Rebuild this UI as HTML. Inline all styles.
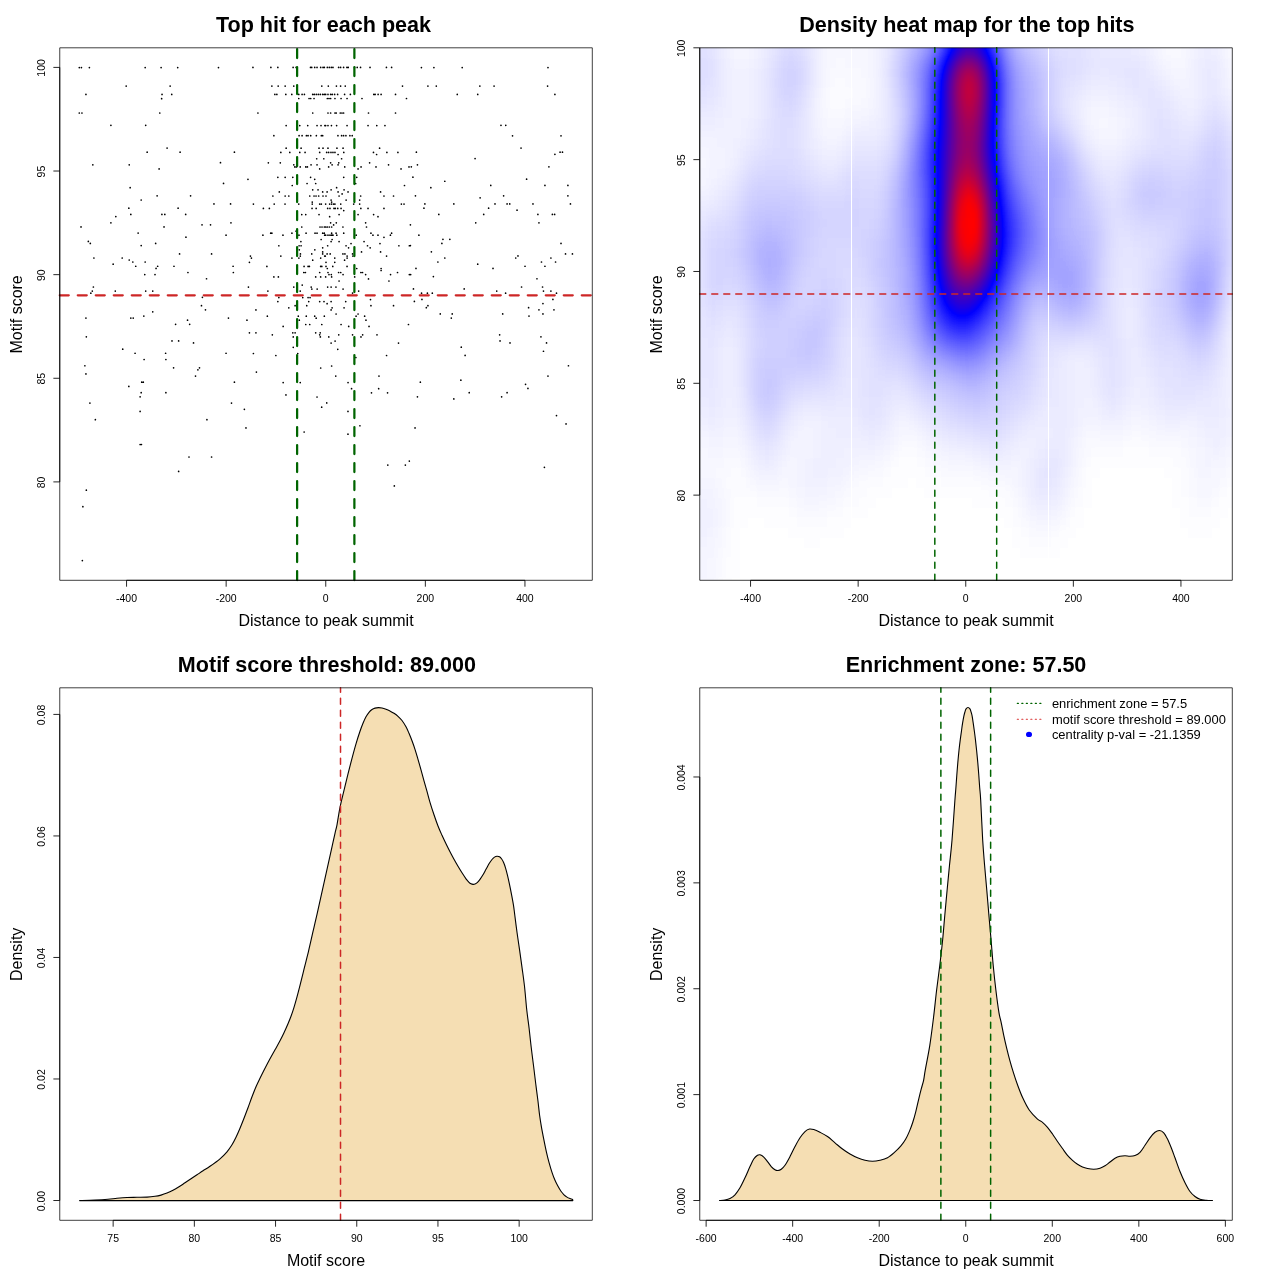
<!DOCTYPE html>
<html><head><meta charset="utf-8"><title>Motif enrichment plots</title>
<style>html,body{margin:0;padding:0;background:#fff}svg{display:block}text{font-family:"Liberation Sans",sans-serif;fill:#000}.ax{font-size:11px}.lg{font-size:12.92px}.lab{font-size:16px}.ttl{font-size:21.55px;font-weight:bold}.ln{stroke:#000;stroke-width:0.85;fill:none;stroke-linecap:butt;stroke-linejoin:round}.bx{stroke:#000;stroke-width:0.75;fill:none;stroke-linejoin:round}</style></head><body>
<svg style="will-change:transform" width="1280" height="1280" viewBox="0 0 1280 1280">
<rect width="1280" height="1280" fill="#fff"/>
<path d="M79.3 67.57h0M81.42 67.57h0M89.39 67.57h0M145.17 67.57h0M161.11 67.57h0M177.71 67.57h0M218.48 67.57h0M126.18 86.03h0M170.14 86.03h0M85.94 94.4h0M162.04 94.4h0M171.73 94.4h0M161.64 98.65h0M79.3 112.99h0M81.95 112.99h0M159.78 112.99h0M110.91 125.34h0M145.7 125.34h0M167.09 148.05h0M147.16 152.17h0M180.1 152.17h0M234.42 152.17h0M220.48 162.66h0M92.84 164.79h0M129.23 164.79h0M159.12 168.91h0M223.53 183.38h0M130.16 187.63h0M157.12 195.87h0M190.59 195.87h0M141.19 199.98h0M213.97 203.97h0M230.57 203.97h0M128.84 208.22h0M178.11 208.22h0M130.83 214.46h0M161.91 214.46h0M164.83 214.46h0M185.68 214.46h0M115.82 216.59h0M110.91 222.83h0M230.97 222.83h0M202.02 224.82h0M210.52 224.82h0M81.02 226.95h0M164.03 226.95h0M138.13 233.05h0M185.95 237.17h0M226.05 235.18h0M88.33 241.42h0M90.32 243.41h0M155.66 243.41h0M141.19 245.54h0M179.57 253.91h0M211.58 253.91h0M93.91 258.02h0M122.2 258.02h0M129.23 260.02h0M132.82 262.01h0M145.17 262.01h0M113.16 264.13h0M135.74 266.26h0M157.66 266.26h0M173.99 266.26h0M233.09 266.26h0M156.06 268.38h0M187.94 272.5h0M233.36 272.5h0M144.77 274.62h0M155 274.62h0M206.53 278.74h0M93.38 286.98h0M92.31 291.09h0M115.29 291.09h0M145.7 291.09h0M152.74 291.09h0M90.85 293.22h0M202.41 297.34h0M201.48 305.7h0M205.47 309.82h0M152.74 311.81h0M143.84 316.06h0M85.94 318.05h0M130.83 318.05h0M133.22 318.05h0M228.45 318.05h0M187.54 320.18h0M175.59 324.3h0M189.66 324.3h0M86.34 336.78h0M172 340.9h0M178.64 340.9h0M193.52 342.89h0M122.73 349.13h0M135.08 353.25h0M165.62 353.25h0M226.05 353.25h0M144.11 359.49h0M165.89 359.49h0M84.88 365.73h0M173.59 367.86h0M199.49 367.86h0M197.9 369.85h0M85.94 373.97h0M195.51 376.09h0M141.72 382.2h0M143.31 382.2h0M234.42 382.2h0M128.84 386.45h0M141.19 392.7h0M165.89 392.7h0M140.12 396.81h0M89.92 403.05h0M231.5 403.05h0M140.12 411.42h0M95.37 419.66h0M206.93 419.66h0M140.12 444.49h0M141.45 444.49h0M189 456.98h0M211.58 456.98h0M178.64 471.45h0M86.34 490.18h0M82.88 506.65h0M82.35 560.57h0M252.95 67.44h0M270.88 67.44h0M277.85 67.44h0M293.12 67.44h0M296.11 67.44h0M310.52 67.44h0M311.72 67.44h0M314.71 67.44h0M317.03 67.44h0M320.68 67.44h0M323.01 67.44h0M324.34 67.44h0M271.88 86.1h0M278.18 86.1h0M285.16 86.1h0M293.79 86.1h0M321.81 86.1h0M274.86 94.4h0M276.86 94.4h0M285.82 94.4h0M291.8 94.4h0M298.77 94.4h0M302.09 94.4h0M304.41 94.4h0M312.71 94.4h0M314.38 94.4h0M316.37 94.4h0M318.36 94.4h0M320.35 94.4h0M322.68 94.4h0M324.34 94.4h0M298.77 98.52h0M309.06 98.52h0M310.72 98.52h0M314.04 98.52h0M257.93 112.99h0M312.71 112.99h0M286.15 125.54h0M299.77 125.54h0M307.73 125.54h0M317.03 125.54h0M321.02 125.54h0M324.87 125.54h0M273.87 135.7h0M299.1 135.7h0M302.09 135.7h0M306.41 135.7h0M308.07 135.7h0M310.72 135.7h0M316.37 135.7h0M321.35 135.7h0M322.68 135.7h0M327.32 67.44h0M329.32 67.44h0M331.31 67.44h0M332.97 67.44h0M338.61 67.44h0M340.61 67.44h0M343.59 67.44h0M346.91 67.44h0M348.24 67.44h0M354.55 67.44h0M357.21 67.44h0M360.53 67.44h0M370.02 67.44h0M386.43 67.44h0M391.61 67.44h0M328.32 86.1h0M336.42 86.1h0M340.61 86.1h0M345.25 86.1h0M402.5 86.1h0M325.66 94.4h0M327.99 94.4h0M330.64 94.4h0M332.3 94.4h0M334.63 94.4h0M337.62 94.4h0M344.59 94.4h0M350.37 94.4h0M373.81 94.4h0M375.14 94.4h0M378.12 94.4h0M381.11 94.4h0M395.52 94.4h0M327.32 98.52h0M328.98 98.52h0M330.64 98.52h0M334.96 98.52h0M341.07 98.52h0M347.05 98.52h0M361.99 98.52h0M406.48 98.52h0M327.99 112.99h0M330.64 112.99h0M334.96 112.99h0M336.29 112.99h0M340.27 112.99h0M341.93 112.99h0M343.59 112.99h0M368.5 112.99h0M395.52 112.99h0M325.66 125.54h0M327.99 125.54h0M331.44 125.54h0M336.62 125.54h0M347.05 125.54h0M368.03 125.54h0M376.8 125.54h0M384.96 125.54h0M337.95 135.7h0M341.6 135.7h0M343.59 135.7h0M345.92 135.7h0M349.9 135.7h0M352.23 135.7h0M286.15 148.19h0M301.09 148.19h0M319.02 148.19h0M323.01 148.19h0M280.84 152.44h0M289.8 152.44h0M299.77 152.44h0M305.08 152.44h0M319.69 152.44h0M316.7 158.75h0M323.8 158.75h0M268.36 162.8h0M280.31 162.8h0M293.79 164.79h0M311.05 164.79h0M317.03 164.79h0M294.79 166.91h0M296.45 166.91h0M300.23 166.91h0M305.74 166.91h0M307.4 166.91h0M319.69 168.91h0M277.85 177.34h0M285.16 177.34h0M292.79 177.34h0M310.59 177.34h0M247.97 179.33h0M314.71 179.33h0M307.07 183.52h0M315.7 183.52h0M292.26 185.51h0M312.71 189.82h0M318.03 189.82h0M279.31 191.88h0M322.68 191.88h0M272.87 196h0M285.16 196h0M288.81 196h0M309.73 196h0M314.04 196h0M316.04 196h0M318.69 196h0M323.01 196h0M312.25 202.11h0M253.41 204.1h0M274.2 204.1h0M285.02 204.1h0M298.77 204.1h0M312.25 204.1h0M319.69 204.1h0M321.35 204.1h0M263.38 208.42h0M269.35 208.42h0M312.05 208.42h0M316.17 208.42h0M301.76 214.59h0M305.74 214.59h0M319.02 214.59h0M301.76 227.01h0M320.02 227.01h0M322.01 227.01h0M324.34 227.01h0M327.99 148.19h0M336.95 148.19h0M343.06 148.19h0M379.59 148.19h0M326.66 152.44h0M328.65 152.44h0M330.98 152.44h0M332.97 152.44h0M334.96 152.44h0M343.79 152.44h0M373.48 152.44h0M386.89 152.44h0M397.91 152.44h0M338.08 154.5h0M376.6 154.5h0M341.6 158.75h0M330.64 162.8h0M338.75 162.8h0M369.62 162.8h0M332.11 164.79h0M338.08 164.79h0M388.55 164.79h0M328.65 166.91h0M344.72 166.91h0M361.06 166.91h0M376 166.91h0M409 166.91h0M358.07 168.91h0M401.04 168.91h0M343.73 177.34h0M356.74 177.34h0M355.68 183.52h0M404.49 185.51h0M336.62 187.63h0M331.11 189.82h0M344.06 189.82h0M327.12 191.88h0M338.08 191.88h0M348.04 191.88h0M380.58 191.88h0M342.13 193.94h0M326 196h0M339.08 196h0M360.66 196h0M383.97 196h0M393.53 196h0M331.11 200.12h0M346.12 200.12h0M359.66 200.12h0M331.64 202.11h0M325.66 204.1h0M329.65 204.1h0M331.64 204.1h0M333.63 204.1h0M334.96 204.1h0M340.74 204.1h0M353.69 204.1h0M359.66 204.1h0M401.37 204.1h0M404.02 204.1h0M327.66 208.42h0M329.98 208.42h0M333.96 208.42h0M335.29 208.42h0M337.75 208.42h0M341.07 208.42h0M360.86 208.42h0M368.03 208.42h0M383.97 208.42h0M343.73 210.54h0M339.08 214.59h0M358.07 214.59h0M373.61 214.59h0M329.65 216.72h0M377.99 216.72h0M330.64 222.83h0M336.29 222.83h0M365.64 222.83h0M333.63 224.89h0M325.66 227.01h0M327.32 227.01h0M329.32 227.01h0M331.64 227.01h0M342.93 227.01h0M366.5 227.01h0M296.11 231.13h0M270.68 233.19h0M271.88 233.19h0M291.93 233.19h0M306.07 233.19h0M315.04 233.19h0M317.03 233.19h0M322.68 233.19h0M324.34 233.19h0M262.91 235.18h0M282.96 235.18h0M298.97 235.18h0M324.67 235.18h0M321.15 239.5h0M300.89 241.62h0M278.85 245.74h0M299.1 245.74h0M301.09 245.74h0M322.68 247.8h0M299.3 249.79h0M314.84 249.79h0M322.68 251.91h0M300.43 253.91h0M311.72 253.91h0M322.68 253.91h0M250.43 256.03h0M280.84 256.03h0M300.3 256.03h0M324.67 256.03h0M251.42 258.09h0M291.93 258.09h0M298.9 258.09h0M320.68 258.09h0M312.71 260.21h0M249.43 262.34h0M266.89 266.39h0M304.08 266.39h0M308.07 266.39h0M309.39 266.39h0M320.68 266.39h0M321.81 266.39h0M303.75 272.5h0M305.41 272.5h0M319.69 272.5h0M273.87 276.88h0M278.38 276.88h0M315.7 276.88h0M320.68 276.88h0M302.22 285.12h0M248.43 287.11h0M293.79 287.11h0M311.19 287.11h0M311.85 289.1h0M317.16 289.1h0M267.89 291.09h0M300.23 291.09h0M278.85 297.54h0M302.75 297.54h0M308.07 297.54h0M310.06 297.54h0M277.85 301.59h0M308.73 301.59h0M319.69 301.59h0M324 301.59h0M295.12 305.7h0M306.74 305.7h0M288.81 307.83h0M255.94 309.89h0M331.64 233.19h0M336.09 233.19h0M343.73 233.19h0M370.95 233.19h0M391.61 233.19h0M325.66 235.18h0M327.99 235.18h0M329.98 235.18h0M331.64 235.18h0M332.97 235.18h0M336.82 235.18h0M356.21 235.18h0M372.95 235.18h0M377.99 235.18h0M390.41 235.18h0M383.97 237.3h0M332.11 239.5h0M331.11 241.62h0M339.08 241.62h0M364.05 241.62h0M351.03 243.61h0M379.98 243.61h0M327.66 245.74h0M346.05 245.74h0M367.5 245.74h0M398.91 245.74h0M409.34 245.74h0M348.57 247.8h0M370.16 247.8h0M361.52 251.91h0M380.58 251.91h0M327.12 253.91h0M330.18 253.91h0M342.93 253.91h0M344.92 253.91h0M352.56 253.91h0M325.33 256.03h0M347.11 256.03h0M352.89 256.03h0M386.56 256.03h0M334.76 258.09h0M347.11 258.09h0M344.59 260.21h0M326 262.34h0M334.76 262.34h0M326 266.39h0M332.77 266.39h0M347.05 266.39h0M327.32 268.52h0M356.74 268.52h0M381.11 268.52h0M381.11 270.51h0M327.99 272.5h0M338.61 272.5h0M340.74 272.5h0M360.86 272.5h0M362.52 272.5h0M397.52 272.5h0M328.98 274.62h0M331.31 274.62h0M343.06 274.62h0M365.64 274.62h0M390.54 274.62h0M409.34 274.62h0M325.66 276.88h0M331.64 276.88h0M354.68 276.88h0M368.5 278.94h0M339.08 281h0M388.95 281h0M327.66 287.11h0M331.11 287.11h0M335.96 287.11h0M343.06 289.1h0M358.67 291.09h0M352.56 293.09h0M370.49 299.59h0M331.11 301.59h0M345.72 301.59h0M327.12 303.71h0M370.95 305.7h0M393.53 305.7h0M332.11 307.83h0M344.06 307.83h0M331.11 309.89h0M336.09 314h0M358.07 314h0M267.36 316.13h0M298.3 316.13h0M306.27 316.13h0M314.71 316.13h0M324.34 316.13h0M316.17 318.19h0M246.97 320.18h0M299.3 320.18h0M305.74 324.5h0M309.73 324.5h0M321.81 324.5h0M283.16 326.42h0M249.43 332.8h0M255.94 332.8h0M292.79 332.8h0M295.12 332.8h0M315.7 332.8h0M320.22 332.8h0M272.34 334.79h0M319.69 334.79h0M293.26 336.91h0M320.35 336.91h0M293.26 347.34h0M253.41 353.52h0M297.77 353.52h0M275.86 355.51h0M320.68 367.99h0M256.4 372.11h0M296.78 374.1h0M283.16 382.54h0M300.23 382.54h0M285.95 394.89h0M317.03 397.01h0M356.08 316.13h0M364.64 316.13h0M365.97 320.18h0M341.07 324.5h0M408.47 324.5h0M348.71 326.42h0M369.03 326.42h0M338.75 334.79h0M352.56 334.79h0M362.65 334.79h0M377 334.79h0M328.79 336.91h0M360.99 336.91h0M335.09 341.03h0M331.11 343.09h0M398.51 343.09h0M337.75 349.33h0M386.56 355.51h0M355.88 357.5h0M331.64 366h0M335.76 376.09h0M378.99 376.09h0M348.04 382.54h0M351.56 388.71h0M378.66 388.71h0M371.48 392.83h0M387.55 392.83h0M244.38 409.3h0M245.98 427.89h0M304.15 432.01h0M321.68 407.17h0M326.73 402.92h0M347.98 411.42h0M347.98 434.13h0M359.93 425.77h0M387.82 465.08h0M405.35 465.08h0M409.34 461.09h0M394.33 485.93h0M421.42 67.57h0M433.91 67.57h0M462.2 67.57h0M547.99 67.57h0M427.93 86.03h0M436.3 86.03h0M479.86 86.03h0M494.07 86.03h0M547.59 86.03h0M457.28 94.4h0M477.73 94.4h0M554.9 94.4h0M500.98 125.34h0M505.76 125.34h0M512.53 135.84h0M561.01 135.84h0M521.03 148.05h0M416.38 152.17h0M560.08 152.17h0M562.47 152.17h0M554.9 154.3h0M475.08 158.55h0M417.44 164.79h0M411.33 166.78h0M548.92 166.78h0M412.92 177.14h0M526.61 179.13h0M444.8 181.26h0M490.75 185.38h0M544.94 185.38h0M567.91 185.38h0M430.85 187.63h0M415.45 195.87h0M503.63 195.87h0M567.91 195.87h0M480.12 197.86h0M424.88 203.97h0M453.83 203.97h0M495 203.97h0M507.09 203.97h0M509.74 203.97h0M532.98 203.97h0M570.44 203.97h0M423.95 208.22h0M488.62 208.22h0M517.05 210.21h0M438.82 214.46h0M483.71 214.46h0M537.9 214.46h0M552.38 214.46h0M554.63 214.46h0M475.74 222.83h0M538.96 222.83h0M410.4 224.82h0M418.9 235.18h0M442.94 239.3h0M449.84 239.3h0M441.88 243.41h0M561.01 243.41h0M410.4 245.54h0M431.38 251.78h0M565.52 253.91h0M572.43 253.91h0M517.98 255.9h0M515.72 258.02h0M444.8 258.02h0M550.91 258.02h0M437.89 262.01h0M541.48 262.01h0M555.56 262.01h0M477.73 264.13h0M525.02 266.26h0M544.94 266.26h0M415.98 268.38h0M493.01 268.38h0M410.66 274.62h0M433.38 276.62h0M536.97 278.74h0M521.56 286.98h0M542.55 286.98h0M413.45 288.97h0M464.19 288.97h0M496.73 291.09h0M543.48 291.09h0M550.91 291.09h0M421.55 293.22h0M427.4 293.22h0M432.31 293.22h0M505.62 293.22h0M556.49 293.22h0M421.95 299.46h0M552.91 299.46h0M414.38 301.45h0M542.95 303.58h0M427.93 305.7h0M426.34 307.7h0M528.6 307.7h0M538.96 309.82h0M553.97 309.82h0M440.28 313.94h0M452.23 313.94h0M502.7 313.94h0M542.95 313.94h0M529 316.06h0M451.3 318.05h0M499.65 334.79h0M540.95 336.78h0M500.05 340.9h0M510.01 342.89h0M546.53 342.89h0M461.27 347.14h0M543.48 351.26h0M465.12 355.38h0M568.45 365.73h0M547.99 376.09h0M460.87 380.21h0M420.36 382.2h0M525.55 384.33h0M527.94 388.45h0M469.23 392.7h0M507.09 392.7h0M417.44 396.81h0M501.64 396.81h0M453.83 398.94h0M415.05 427.89h0M556.49 415.54h0M566.05 423.91h0M544.41 467.34h0" stroke="#000" stroke-width="1.7" stroke-linecap="round" fill="none"/>
<path d="M59.76 295.35H592.3" stroke="#CD2626" stroke-width="2.25" stroke-dasharray="9 9" stroke-linecap="round" fill="none"/>
<path d="M297.12 580.05V47.81" stroke="#006400" stroke-width="2.25" stroke-dasharray="9 9" stroke-linecap="round" fill="none"/>
<path d="M354.38 580.05V47.81" stroke="#006400" stroke-width="2.25" stroke-dasharray="9 9" stroke-linecap="round" fill="none"/>
<rect class="bx" x="59.76" y="47.81" width="532.54" height="532.49"/>
<path class="ln" d="M126.55 580.3H524.95M126.55 580.3v6.4M226.15 580.3v6.4M325.75 580.3v6.4M425.35 580.3v6.4M524.95 580.3v6.4M59.76 67.4V481.9M59.76 481.9h-6.4M59.76 378.27h-6.4M59.76 274.65h-6.4M59.76 171.03h-6.4M59.76 67.4h-6.4"/>
<text class="ax" transform="translate(126.55 601.9) scale(0.955 1)" text-anchor="middle">-400</text>
<text class="ax" transform="translate(226.15 601.9) scale(0.955 1)" text-anchor="middle">-200</text>
<text class="ax" transform="translate(325.75 601.9) scale(0.955 1)" text-anchor="middle">0</text>
<text class="ax" transform="translate(425.35 601.9) scale(0.955 1)" text-anchor="middle">200</text>
<text class="ax" transform="translate(524.95 601.9) scale(0.955 1)" text-anchor="middle">400</text>
<text class="ax" transform="translate(45 482.4) rotate(-90) scale(0.955 1)" text-anchor="middle">80</text>
<text class="ax" transform="translate(45 378.77) rotate(-90) scale(0.955 1)" text-anchor="middle">85</text>
<text class="ax" transform="translate(45 275.15) rotate(-90) scale(0.955 1)" text-anchor="middle">90</text>
<text class="ax" transform="translate(45 171.53) rotate(-90) scale(0.955 1)" text-anchor="middle">95</text>
<text class="ax" transform="translate(45 67.9) rotate(-90) scale(0.955 1)" text-anchor="middle">100</text>
<text class="ttl" x="323.53" y="31.8" text-anchor="middle">Top hit for each peak</text>
<text class="lab" x="326.03" y="625.5" text-anchor="middle">Distance to peak summit</text>
<text class="lab" transform="translate(22 314.35) rotate(-90)" text-anchor="middle">Motif score</text>
<defs><filter id="hm" filterUnits="userSpaceOnUse" x="-16" y="-20" width="568" height="580" color-interpolation-filters="sRGB"><feGaussianBlur stdDeviation="3.2 4.0"/><feComponentTransfer><feFuncR type="table" tableValues="1 0 1"/><feFuncG type="table" tableValues="1 0 0"/><feFuncB type="table" tableValues="1 1 0"/><feFuncA type="table" tableValues="1 1"/></feComponentTransfer></filter><clipPath id="hc"><rect x="0" y="0" width="532.54" height="532.49"/></clipPath></defs>
<g transform="translate(699.76 47.81)" clip-path="url(#hc)"><g filter="url(#hm)">
<path fill="#000000" d="M400 420h64.5v10.5h-64.5zM208 430h8.5v10.5h-8.5zM392 430h80.5v10.5h-80.5zM192 440h32.5v10.5h-32.5zM392 440h80.5v10.5h-80.5zM176 450h96.5v10.5h-96.5zM392 450h80.5v10.5h-80.5zM168 460h128.5v10.5h-128.5zM384 460h96.5v10.5h-96.5zM528 460h24.5v10.5h-24.5zM48 470h16.5v10.5h-16.5zM152 470h152.5v10.5h-152.5zM384 470h96.5v10.5h-96.5zM520 470h32.5v10.5h-32.5zM40 480h48.5v10.5h-48.5zM144 480h168.5v10.5h-168.5zM376 480h112.5v10.5h-112.5zM512 480h40.5v10.5h-40.5zM40 490h64.5v10.5h-64.5zM120 490h192.5v10.5h-192.5zM368 490h184.5v10.5h-184.5zM40 500h280.5v10.5h-280.5zM360 500h192.5v10.5h-192.5zM40 510h512.5v10.5h-512.5zM40 520h512.5v10.5h-512.5zM32 530h520.5v10.5h-520.5zM32 540h520.5v10.5h-520.5zM32 550h520.5v10.5h-520.5z"/>
<path fill="#010101" d="M424 400h24.5v10.5h-24.5zM200 410h16.5v10.5h-16.5zM392 410h80.5v10.5h-80.5zM192 420h32.5v10.5h-32.5zM384 420h16.5v10.5h-16.5zM464 420h16.5v10.5h-16.5zM184 430h24.5v10.5h-24.5zM216 430h24.5v10.5h-24.5zM384 430h8.5v10.5h-8.5zM472 430h8.5v10.5h-8.5zM168 440h24.5v10.5h-24.5zM224 440h64.5v10.5h-64.5zM384 440h8.5v10.5h-8.5zM472 440h8.5v10.5h-8.5zM528 440h24.5v10.5h-24.5zM32 450h24.5v10.5h-24.5zM160 450h16.5v10.5h-16.5zM272 450h32.5v10.5h-32.5zM384 450h8.5v10.5h-8.5zM472 450h16.5v10.5h-16.5zM520 450h32.5v10.5h-32.5zM32 460h56.5v10.5h-56.5zM144 460h24.5v10.5h-24.5zM296 460h16.5v10.5h-16.5zM376 460h8.5v10.5h-8.5zM480 460h8.5v10.5h-8.5zM512 460h16.5v10.5h-16.5zM32 470h16.5v10.5h-16.5zM64 470h32.5v10.5h-32.5zM128 470h24.5v10.5h-24.5zM304 470h8.5v10.5h-8.5zM368 470h16.5v10.5h-16.5zM480 470h40.5v10.5h-40.5zM32 480h8.5v10.5h-8.5zM88 480h56.5v10.5h-56.5zM312 480h8.5v10.5h-8.5zM360 480h16.5v10.5h-16.5zM488 480h24.5v10.5h-24.5zM32 490h8.5v10.5h-8.5zM104 490h16.5v10.5h-16.5zM312 490h16.5v10.5h-16.5zM352 490h16.5v10.5h-16.5zM32 500h8.5v10.5h-8.5zM320 500h40.5v10.5h-40.5zM24 510h16.5v10.5h-16.5zM24 520h16.5v10.5h-16.5zM24 530h8.5v10.5h-8.5zM24 540h8.5v10.5h-8.5zM24 550h8.5v10.5h-8.5z"/>
<path fill="#020202" d="M472 -20h8.5v10.5h-8.5zM472 -10h8.5v10.5h-8.5zM136 30h8.5v10.5h-8.5zM128 40h24.5v10.5h-24.5zM128 50h16.5v10.5h-16.5zM424 390h24.5v10.5h-24.5zM200 400h16.5v10.5h-16.5zM392 400h32.5v10.5h-32.5zM448 400h32.5v10.5h-32.5zM192 410h8.5v10.5h-8.5zM216 410h8.5v10.5h-8.5zM384 410h8.5v10.5h-8.5zM472 410h16.5v10.5h-16.5zM32 420h8.5v10.5h-8.5zM184 420h8.5v10.5h-8.5zM224 420h16.5v10.5h-16.5zM480 420h8.5v10.5h-8.5zM528 420h24.5v10.5h-24.5zM24 430h24.5v10.5h-24.5zM160 430h24.5v10.5h-24.5zM240 430h40.5v10.5h-40.5zM480 430h8.5v10.5h-8.5zM528 430h24.5v10.5h-24.5zM32 440h24.5v10.5h-24.5zM152 440h16.5v10.5h-16.5zM288 440h24.5v10.5h-24.5zM376 440h8.5v10.5h-8.5zM480 440h8.5v10.5h-8.5zM520 440h8.5v10.5h-8.5zM56 450h32.5v10.5h-32.5zM144 450h16.5v10.5h-16.5zM304 450h8.5v10.5h-8.5zM376 450h8.5v10.5h-8.5zM488 450h8.5v10.5h-8.5zM512 450h8.5v10.5h-8.5zM88 460h8.5v10.5h-8.5zM128 460h16.5v10.5h-16.5zM312 460h8.5v10.5h-8.5zM368 460h8.5v10.5h-8.5zM488 460h24.5v10.5h-24.5zM96 470h32.5v10.5h-32.5zM312 470h8.5v10.5h-8.5zM24 480h8.5v10.5h-8.5zM320 480h8.5v10.5h-8.5zM352 480h8.5v10.5h-8.5zM24 490h8.5v10.5h-8.5zM328 490h24.5v10.5h-24.5zM24 500h8.5v10.5h-8.5zM16 530h8.5v10.5h-8.5zM16 540h8.5v10.5h-8.5zM16 550h8.5v10.5h-8.5z"/>
<path fill="#030303" d="M464 -20h8.5v10.5h-8.5zM480 -20h8.5v10.5h-8.5zM528 -20h24.5v10.5h-24.5zM464 -10h8.5v10.5h-8.5zM480 -10h8.5v10.5h-8.5zM528 -10h24.5v10.5h-24.5zM464 0h16.5v10.5h-16.5zM528 0h24.5v10.5h-24.5zM136 10h8.5v10.5h-8.5zM128 20h32.5v10.5h-32.5zM128 30h8.5v10.5h-8.5zM144 30h24.5v10.5h-24.5zM152 40h16.5v10.5h-16.5zM144 50h16.5v10.5h-16.5zM128 60h16.5v10.5h-16.5zM432 380h8.5v10.5h-8.5zM200 390h16.5v10.5h-16.5zM384 390h40.5v10.5h-40.5zM448 390h32.5v10.5h-32.5zM-16 400h16.5v10.5h-16.5zM192 400h8.5v10.5h-8.5zM216 400h8.5v10.5h-8.5zM384 400h8.5v10.5h-8.5zM480 400h8.5v10.5h-8.5zM-16 410h16.5v10.5h-16.5zM24 410h16.5v10.5h-16.5zM184 410h8.5v10.5h-8.5zM224 410h8.5v10.5h-8.5zM528 410h24.5v10.5h-24.5zM16 420h16.5v10.5h-16.5zM40 420h8.5v10.5h-8.5zM168 420h16.5v10.5h-16.5zM240 420h32.5v10.5h-32.5zM376 420h8.5v10.5h-8.5zM488 420h8.5v10.5h-8.5zM152 430h8.5v10.5h-8.5zM280 430h24.5v10.5h-24.5zM376 430h8.5v10.5h-8.5zM488 430h8.5v10.5h-8.5zM520 430h8.5v10.5h-8.5zM24 440h8.5v10.5h-8.5zM56 440h32.5v10.5h-32.5zM144 440h8.5v10.5h-8.5zM488 440h8.5v10.5h-8.5zM512 440h8.5v10.5h-8.5zM24 450h8.5v10.5h-8.5zM88 450h8.5v10.5h-8.5zM136 450h8.5v10.5h-8.5zM312 450h8.5v10.5h-8.5zM368 450h8.5v10.5h-8.5zM496 450h16.5v10.5h-16.5zM24 460h8.5v10.5h-8.5zM96 460h32.5v10.5h-32.5zM24 470h8.5v10.5h-8.5zM320 470h8.5v10.5h-8.5zM360 470h8.5v10.5h-8.5zM328 480h24.5v10.5h-24.5zM16 500h8.5v10.5h-8.5zM16 510h8.5v10.5h-8.5zM16 520h8.5v10.5h-8.5z"/>
<path fill="#040404" d="M128 -20h40.5v10.5h-40.5zM456 -20h8.5v10.5h-8.5zM128 -10h40.5v10.5h-40.5zM456 -10h8.5v10.5h-8.5zM128 0h40.5v10.5h-40.5zM480 0h8.5v10.5h-8.5zM128 10h8.5v10.5h-8.5zM144 10h24.5v10.5h-24.5zM472 10h16.5v10.5h-16.5zM528 10h24.5v10.5h-24.5zM160 20h8.5v10.5h-8.5zM528 20h24.5v10.5h-24.5zM120 40h8.5v10.5h-8.5zM120 50h8.5v10.5h-8.5zM160 50h8.5v10.5h-8.5zM120 60h8.5v10.5h-8.5zM144 60h8.5v10.5h-8.5zM128 70h16.5v10.5h-16.5zM400 70h8.5v10.5h-8.5zM-16 100h16.5v10.5h-16.5zM-16 110h24.5v10.5h-24.5zM-16 120h16.5v10.5h-16.5zM384 380h16.5v10.5h-16.5zM424 380h8.5v10.5h-8.5zM440 380h16.5v10.5h-16.5zM-16 390h16.5v10.5h-16.5zM216 390h8.5v10.5h-8.5zM480 390h8.5v10.5h-8.5zM0 400h8.5v10.5h-8.5zM24 400h16.5v10.5h-16.5zM224 400h8.5v10.5h-8.5zM376 400h8.5v10.5h-8.5zM488 400h8.5v10.5h-8.5zM528 400h24.5v10.5h-24.5zM0 410h24.5v10.5h-24.5zM40 410h8.5v10.5h-8.5zM176 410h8.5v10.5h-8.5zM232 410h16.5v10.5h-16.5zM376 410h8.5v10.5h-8.5zM488 410h8.5v10.5h-8.5zM-16 420h32.5v10.5h-32.5zM152 420h16.5v10.5h-16.5zM272 420h16.5v10.5h-16.5zM512 420h16.5v10.5h-16.5zM-16 430h16.5v10.5h-16.5zM16 430h8.5v10.5h-8.5zM48 430h8.5v10.5h-8.5zM80 430h8.5v10.5h-8.5zM144 430h8.5v10.5h-8.5zM304 430h8.5v10.5h-8.5zM496 430h24.5v10.5h-24.5zM16 440h8.5v10.5h-8.5zM88 440h8.5v10.5h-8.5zM136 440h8.5v10.5h-8.5zM312 440h8.5v10.5h-8.5zM368 440h8.5v10.5h-8.5zM496 440h16.5v10.5h-16.5zM96 450h8.5v10.5h-8.5zM120 450h16.5v10.5h-16.5zM320 460h8.5v10.5h-8.5zM360 460h8.5v10.5h-8.5zM328 470h8.5v10.5h-8.5zM352 470h8.5v10.5h-8.5zM16 480h8.5v10.5h-8.5zM16 490h8.5v10.5h-8.5zM8 510h8.5v10.5h-8.5zM-16 520h16.5v10.5h-16.5zM8 520h8.5v10.5h-8.5zM-16 530h32.5v10.5h-32.5zM-16 540h32.5v10.5h-32.5zM-16 550h32.5v10.5h-32.5z"/>
<path fill="#050505" d="M32 -20h16.5v10.5h-16.5zM120 -20h8.5v10.5h-8.5zM168 -20h8.5v10.5h-8.5zM488 -20h8.5v10.5h-8.5zM520 -20h8.5v10.5h-8.5zM32 -10h16.5v10.5h-16.5zM120 -10h8.5v10.5h-8.5zM168 -10h8.5v10.5h-8.5zM488 -10h8.5v10.5h-8.5zM520 -10h8.5v10.5h-8.5zM32 0h16.5v10.5h-16.5zM120 0h8.5v10.5h-8.5zM168 0h8.5v10.5h-8.5zM456 0h8.5v10.5h-8.5zM120 10h8.5v10.5h-8.5zM168 10h8.5v10.5h-8.5zM464 10h8.5v10.5h-8.5zM120 20h8.5v10.5h-8.5zM168 20h8.5v10.5h-8.5zM472 20h16.5v10.5h-16.5zM120 30h8.5v10.5h-8.5zM168 30h8.5v10.5h-8.5zM528 30h24.5v10.5h-24.5zM168 40h8.5v10.5h-8.5zM168 50h8.5v10.5h-8.5zM152 60h16.5v10.5h-16.5zM392 60h16.5v10.5h-16.5zM120 70h8.5v10.5h-8.5zM144 70h8.5v10.5h-8.5zM392 70h8.5v10.5h-8.5zM408 70h8.5v10.5h-8.5zM120 80h24.5v10.5h-24.5zM400 80h16.5v10.5h-16.5zM-16 90h16.5v10.5h-16.5zM0 100h8.5v10.5h-8.5zM0 120h8.5v10.5h-8.5zM-16 130h24.5v10.5h-24.5zM432 370h16.5v10.5h-16.5zM-16 380h16.5v10.5h-16.5zM200 380h16.5v10.5h-16.5zM400 380h24.5v10.5h-24.5zM456 380h32.5v10.5h-32.5zM0 390h8.5v10.5h-8.5zM24 390h16.5v10.5h-16.5zM192 390h8.5v10.5h-8.5zM376 390h8.5v10.5h-8.5zM488 390h8.5v10.5h-8.5zM528 390h24.5v10.5h-24.5zM8 400h16.5v10.5h-16.5zM40 400h8.5v10.5h-8.5zM184 400h8.5v10.5h-8.5zM232 400h8.5v10.5h-8.5zM496 400h8.5v10.5h-8.5zM88 410h8.5v10.5h-8.5zM160 410h16.5v10.5h-16.5zM248 410h24.5v10.5h-24.5zM496 410h8.5v10.5h-8.5zM512 410h16.5v10.5h-16.5zM48 420h8.5v10.5h-8.5zM80 420h16.5v10.5h-16.5zM288 420h32.5v10.5h-32.5zM496 420h16.5v10.5h-16.5zM0 430h16.5v10.5h-16.5zM56 430h24.5v10.5h-24.5zM88 430h8.5v10.5h-8.5zM312 430h8.5v10.5h-8.5zM368 430h8.5v10.5h-8.5zM-16 440h16.5v10.5h-16.5zM96 440h8.5v10.5h-8.5zM128 440h8.5v10.5h-8.5zM16 450h8.5v10.5h-8.5zM104 450h16.5v10.5h-16.5zM320 450h8.5v10.5h-8.5zM16 460h8.5v10.5h-8.5zM16 470h8.5v10.5h-8.5zM336 470h16.5v10.5h-16.5zM8 490h8.5v10.5h-8.5zM-16 500h32.5v10.5h-32.5zM-16 510h24.5v10.5h-24.5zM0 520h8.5v10.5h-8.5z"/>
<path fill="#060606" d="M24 -20h8.5v10.5h-8.5zM48 -20h8.5v10.5h-8.5zM448 -20h8.5v10.5h-8.5zM24 -10h8.5v10.5h-8.5zM48 -10h8.5v10.5h-8.5zM448 -10h8.5v10.5h-8.5zM48 0h8.5v10.5h-8.5zM488 0h8.5v10.5h-8.5zM520 0h8.5v10.5h-8.5zM32 10h16.5v10.5h-16.5zM456 10h8.5v10.5h-8.5zM464 20h8.5v10.5h-8.5zM472 30h16.5v10.5h-16.5zM528 40h24.5v10.5h-24.5zM392 50h16.5v10.5h-16.5zM168 60h8.5v10.5h-8.5zM384 60h8.5v10.5h-8.5zM408 60h8.5v10.5h-8.5zM152 70h8.5v10.5h-8.5zM384 70h8.5v10.5h-8.5zM416 70h8.5v10.5h-8.5zM-16 80h16.5v10.5h-16.5zM392 80h8.5v10.5h-8.5zM416 80h8.5v10.5h-8.5zM0 90h16.5v10.5h-16.5zM128 90h8.5v10.5h-8.5zM400 90h16.5v10.5h-16.5zM8 100h16.5v10.5h-16.5zM8 110h16.5v10.5h-16.5zM8 120h8.5v10.5h-8.5zM-16 140h16.5v10.5h-16.5zM536 330h16.5v10.5h-16.5zM536 340h16.5v10.5h-16.5zM528 350h24.5v10.5h-24.5zM432 360h8.5v10.5h-8.5zM536 360h16.5v10.5h-16.5zM-16 370h16.5v10.5h-16.5zM200 370h8.5v10.5h-8.5zM384 370h16.5v10.5h-16.5zM424 370h8.5v10.5h-8.5zM448 370h8.5v10.5h-8.5zM528 370h24.5v10.5h-24.5zM0 380h8.5v10.5h-8.5zM24 380h16.5v10.5h-16.5zM96 380h16.5v10.5h-16.5zM192 380h8.5v10.5h-8.5zM216 380h8.5v10.5h-8.5zM376 380h8.5v10.5h-8.5zM488 380h8.5v10.5h-8.5zM528 380h24.5v10.5h-24.5zM8 390h16.5v10.5h-16.5zM88 390h24.5v10.5h-24.5zM224 390h8.5v10.5h-8.5zM496 390h8.5v10.5h-8.5zM88 400h24.5v10.5h-24.5zM176 400h8.5v10.5h-8.5zM240 400h8.5v10.5h-8.5zM504 400h8.5v10.5h-8.5zM520 400h8.5v10.5h-8.5zM80 410h8.5v10.5h-8.5zM96 410h8.5v10.5h-8.5zM152 410h8.5v10.5h-8.5zM272 410h8.5v10.5h-8.5zM312 410h8.5v10.5h-8.5zM504 410h8.5v10.5h-8.5zM96 420h8.5v10.5h-8.5zM144 420h8.5v10.5h-8.5zM368 420h8.5v10.5h-8.5zM96 430h8.5v10.5h-8.5zM128 430h16.5v10.5h-16.5zM0 440h16.5v10.5h-16.5zM104 440h24.5v10.5h-24.5zM320 440h8.5v10.5h-8.5zM-16 450h16.5v10.5h-16.5zM8 450h8.5v10.5h-8.5zM360 450h8.5v10.5h-8.5zM328 460h8.5v10.5h-8.5zM352 460h8.5v10.5h-8.5zM-16 480h16.5v10.5h-16.5zM8 480h8.5v10.5h-8.5zM-16 490h24.5v10.5h-24.5z"/>
<path fill="#070707" d="M176 -20h8.5v10.5h-8.5zM176 -10h8.5v10.5h-8.5zM24 0h8.5v10.5h-8.5zM448 0h8.5v10.5h-8.5zM48 10h8.5v10.5h-8.5zM488 10h8.5v10.5h-8.5zM520 10h8.5v10.5h-8.5zM32 20h16.5v10.5h-16.5zM488 20h8.5v10.5h-8.5zM32 30h16.5v10.5h-16.5zM488 30h8.5v10.5h-8.5zM32 40h16.5v10.5h-16.5zM480 40h16.5v10.5h-16.5zM32 50h16.5v10.5h-16.5zM112 50h8.5v10.5h-8.5zM384 50h8.5v10.5h-8.5zM408 50h8.5v10.5h-8.5zM536 50h16.5v10.5h-16.5zM32 60h16.5v10.5h-16.5zM112 60h8.5v10.5h-8.5zM416 60h8.5v10.5h-8.5zM24 70h16.5v10.5h-16.5zM112 70h8.5v10.5h-8.5zM160 70h8.5v10.5h-8.5zM424 70h8.5v10.5h-8.5zM0 80h40.5v10.5h-40.5zM144 80h8.5v10.5h-8.5zM16 90h16.5v10.5h-16.5zM120 90h8.5v10.5h-8.5zM136 90h8.5v10.5h-8.5zM392 90h8.5v10.5h-8.5zM416 90h8.5v10.5h-8.5zM24 100h8.5v10.5h-8.5zM24 110h8.5v10.5h-8.5zM16 120h8.5v10.5h-8.5zM8 130h8.5v10.5h-8.5zM0 140h8.5v10.5h-8.5zM528 290h24.5v10.5h-24.5zM528 300h24.5v10.5h-24.5zM528 310h24.5v10.5h-24.5zM528 320h24.5v10.5h-24.5zM528 330h8.5v10.5h-8.5zM528 340h8.5v10.5h-8.5zM384 350h8.5v10.5h-8.5zM376 360h24.5v10.5h-24.5zM424 360h8.5v10.5h-8.5zM440 360h8.5v10.5h-8.5zM528 360h8.5v10.5h-8.5zM24 370h16.5v10.5h-16.5zM104 370h16.5v10.5h-16.5zM192 370h8.5v10.5h-8.5zM208 370h8.5v10.5h-8.5zM376 370h8.5v10.5h-8.5zM400 370h24.5v10.5h-24.5zM456 370h8.5v10.5h-8.5zM480 370h16.5v10.5h-16.5zM8 380h16.5v10.5h-16.5zM112 380h8.5v10.5h-8.5zM496 380h8.5v10.5h-8.5zM40 390h8.5v10.5h-8.5zM112 390h8.5v10.5h-8.5zM184 390h8.5v10.5h-8.5zM232 390h8.5v10.5h-8.5zM368 390h8.5v10.5h-8.5zM504 390h8.5v10.5h-8.5zM520 390h8.5v10.5h-8.5zM112 400h8.5v10.5h-8.5zM144 400h32.5v10.5h-32.5zM248 400h16.5v10.5h-16.5zM320 400h8.5v10.5h-8.5zM368 400h8.5v10.5h-8.5zM512 400h8.5v10.5h-8.5zM48 410h8.5v10.5h-8.5zM104 410h8.5v10.5h-8.5zM136 410h16.5v10.5h-16.5zM280 410h8.5v10.5h-8.5zM296 410h16.5v10.5h-16.5zM320 410h8.5v10.5h-8.5zM368 410h8.5v10.5h-8.5zM56 420h24.5v10.5h-24.5zM104 420h8.5v10.5h-8.5zM128 420h16.5v10.5h-16.5zM320 420h8.5v10.5h-8.5zM104 430h24.5v10.5h-24.5zM320 430h8.5v10.5h-8.5zM360 440h8.5v10.5h-8.5zM0 450h8.5v10.5h-8.5zM-16 460h32.5v10.5h-32.5zM336 460h16.5v10.5h-16.5zM-16 470h32.5v10.5h-32.5zM0 480h8.5v10.5h-8.5z"/>
<path fill="#080808" d="M56 -20h8.5v10.5h-8.5zM112 -20h8.5v10.5h-8.5zM440 -20h8.5v10.5h-8.5zM496 -20h8.5v10.5h-8.5zM512 -20h8.5v10.5h-8.5zM56 -10h8.5v10.5h-8.5zM112 -10h8.5v10.5h-8.5zM440 -10h8.5v10.5h-8.5zM496 -10h8.5v10.5h-8.5zM512 -10h8.5v10.5h-8.5zM56 0h8.5v10.5h-8.5zM176 0h8.5v10.5h-8.5zM496 0h8.5v10.5h-8.5zM512 0h8.5v10.5h-8.5zM24 10h8.5v10.5h-8.5zM176 10h8.5v10.5h-8.5zM24 20h8.5v10.5h-8.5zM48 20h8.5v10.5h-8.5zM176 20h8.5v10.5h-8.5zM456 20h8.5v10.5h-8.5zM520 20h8.5v10.5h-8.5zM24 30h8.5v10.5h-8.5zM48 30h8.5v10.5h-8.5zM176 30h8.5v10.5h-8.5zM464 30h8.5v10.5h-8.5zM520 30h8.5v10.5h-8.5zM24 40h8.5v10.5h-8.5zM48 40h8.5v10.5h-8.5zM112 40h8.5v10.5h-8.5zM176 40h8.5v10.5h-8.5zM392 40h16.5v10.5h-16.5zM472 40h8.5v10.5h-8.5zM24 50h8.5v10.5h-8.5zM48 50h8.5v10.5h-8.5zM176 50h8.5v10.5h-8.5zM416 50h8.5v10.5h-8.5zM480 50h16.5v10.5h-16.5zM528 50h8.5v10.5h-8.5zM24 60h8.5v10.5h-8.5zM48 60h8.5v10.5h-8.5zM176 60h8.5v10.5h-8.5zM424 60h8.5v10.5h-8.5zM-16 70h16.5v10.5h-16.5zM16 70h8.5v10.5h-8.5zM40 70h8.5v10.5h-8.5zM168 70h8.5v10.5h-8.5zM40 80h8.5v10.5h-8.5zM112 80h8.5v10.5h-8.5zM384 80h8.5v10.5h-8.5zM424 80h8.5v10.5h-8.5zM32 90h8.5v10.5h-8.5zM32 100h8.5v10.5h-8.5zM120 100h16.5v10.5h-16.5zM400 100h16.5v10.5h-16.5zM24 120h8.5v10.5h-8.5zM16 130h8.5v10.5h-8.5zM8 140h8.5v10.5h-8.5zM-16 150h16.5v10.5h-16.5zM528 280h24.5v10.5h-24.5zM376 310h8.5v10.5h-8.5zM376 320h16.5v10.5h-16.5zM376 330h16.5v10.5h-16.5zM376 340h16.5v10.5h-16.5zM432 340h8.5v10.5h-8.5zM24 350h8.5v10.5h-8.5zM376 350h8.5v10.5h-8.5zM392 350h8.5v10.5h-8.5zM432 350h16.5v10.5h-16.5zM-16 360h16.5v10.5h-16.5zM24 360h16.5v10.5h-16.5zM200 360h8.5v10.5h-8.5zM448 360h8.5v10.5h-8.5zM0 370h8.5v10.5h-8.5zM16 370h8.5v10.5h-8.5zM96 370h8.5v10.5h-8.5zM120 370h8.5v10.5h-8.5zM464 370h16.5v10.5h-16.5zM496 370h8.5v10.5h-8.5zM520 370h8.5v10.5h-8.5zM40 380h8.5v10.5h-8.5zM88 380h8.5v10.5h-8.5zM120 380h16.5v10.5h-16.5zM184 380h8.5v10.5h-8.5zM224 380h8.5v10.5h-8.5zM368 380h8.5v10.5h-8.5zM504 380h24.5v10.5h-24.5zM120 390h48.5v10.5h-48.5zM176 390h8.5v10.5h-8.5zM320 390h16.5v10.5h-16.5zM512 390h8.5v10.5h-8.5zM48 400h8.5v10.5h-8.5zM80 400h8.5v10.5h-8.5zM120 400h24.5v10.5h-24.5zM264 400h8.5v10.5h-8.5zM312 400h8.5v10.5h-8.5zM328 400h8.5v10.5h-8.5zM72 410h8.5v10.5h-8.5zM112 410h24.5v10.5h-24.5zM288 410h8.5v10.5h-8.5zM112 420h16.5v10.5h-16.5zM360 430h8.5v10.5h-8.5zM328 450h8.5v10.5h-8.5zM352 450h8.5v10.5h-8.5z"/>
<path fill="#090909" d="M432 -20h8.5v10.5h-8.5zM504 -20h8.5v10.5h-8.5zM432 -10h8.5v10.5h-8.5zM504 -10h8.5v10.5h-8.5zM112 0h8.5v10.5h-8.5zM440 0h8.5v10.5h-8.5zM504 0h8.5v10.5h-8.5zM56 10h8.5v10.5h-8.5zM112 10h8.5v10.5h-8.5zM448 10h8.5v10.5h-8.5zM496 10h8.5v10.5h-8.5zM112 20h8.5v10.5h-8.5zM496 20h8.5v10.5h-8.5zM112 30h8.5v10.5h-8.5zM496 30h8.5v10.5h-8.5zM384 40h8.5v10.5h-8.5zM408 40h8.5v10.5h-8.5zM496 40h8.5v10.5h-8.5zM520 40h8.5v10.5h-8.5zM376 50h8.5v10.5h-8.5zM424 50h8.5v10.5h-8.5zM16 60h8.5v10.5h-8.5zM376 60h8.5v10.5h-8.5zM432 60h8.5v10.5h-8.5zM488 60h8.5v10.5h-8.5zM528 60h24.5v10.5h-24.5zM0 70h16.5v10.5h-16.5zM48 70h8.5v10.5h-8.5zM176 70h8.5v10.5h-8.5zM432 70h8.5v10.5h-8.5zM152 80h24.5v10.5h-24.5zM432 80h8.5v10.5h-8.5zM40 90h8.5v10.5h-8.5zM112 90h8.5v10.5h-8.5zM144 90h8.5v10.5h-8.5zM424 90h8.5v10.5h-8.5zM136 100h8.5v10.5h-8.5zM416 100h8.5v10.5h-8.5zM32 110h8.5v10.5h-8.5zM0 150h8.5v10.5h-8.5zM528 270h24.5v10.5h-24.5zM24 300h8.5v10.5h-8.5zM24 310h8.5v10.5h-8.5zM368 310h8.5v10.5h-8.5zM384 310h8.5v10.5h-8.5zM24 320h8.5v10.5h-8.5zM368 320h8.5v10.5h-8.5zM24 330h8.5v10.5h-8.5zM368 330h8.5v10.5h-8.5zM432 330h16.5v10.5h-16.5zM520 330h8.5v10.5h-8.5zM24 340h16.5v10.5h-16.5zM368 340h8.5v10.5h-8.5zM392 340h8.5v10.5h-8.5zM440 340h8.5v10.5h-8.5zM520 340h8.5v10.5h-8.5zM-16 350h16.5v10.5h-16.5zM32 350h8.5v10.5h-8.5zM368 350h8.5v10.5h-8.5zM424 350h8.5v10.5h-8.5zM448 350h8.5v10.5h-8.5zM520 350h8.5v10.5h-8.5zM0 360h8.5v10.5h-8.5zM16 360h8.5v10.5h-8.5zM104 360h16.5v10.5h-16.5zM192 360h8.5v10.5h-8.5zM368 360h8.5v10.5h-8.5zM400 360h8.5v10.5h-8.5zM416 360h8.5v10.5h-8.5zM456 360h8.5v10.5h-8.5zM488 360h8.5v10.5h-8.5zM520 360h8.5v10.5h-8.5zM8 370h8.5v10.5h-8.5zM128 370h24.5v10.5h-24.5zM216 370h8.5v10.5h-8.5zM368 370h8.5v10.5h-8.5zM504 370h16.5v10.5h-16.5zM136 380h24.5v10.5h-24.5zM328 380h24.5v10.5h-24.5zM80 390h8.5v10.5h-8.5zM168 390h8.5v10.5h-8.5zM240 390h8.5v10.5h-8.5zM312 390h8.5v10.5h-8.5zM336 390h8.5v10.5h-8.5zM272 400h8.5v10.5h-8.5zM304 400h8.5v10.5h-8.5zM56 410h8.5v10.5h-8.5zM328 410h8.5v10.5h-8.5zM328 420h8.5v10.5h-8.5zM360 420h8.5v10.5h-8.5zM328 430h8.5v10.5h-8.5zM328 440h8.5v10.5h-8.5zM336 450h16.5v10.5h-16.5z"/>
<path fill="#0a0a0a" d="M16 -20h8.5v10.5h-8.5zM64 -20h8.5v10.5h-8.5zM400 -20h32.5v10.5h-32.5zM16 -10h8.5v10.5h-8.5zM64 -10h8.5v10.5h-8.5zM400 -10h32.5v10.5h-32.5zM16 0h8.5v10.5h-8.5zM432 0h8.5v10.5h-8.5zM504 10h16.5v10.5h-16.5zM56 20h8.5v10.5h-8.5zM448 20h8.5v10.5h-8.5zM512 20h8.5v10.5h-8.5zM56 30h8.5v10.5h-8.5zM392 30h24.5v10.5h-24.5zM456 30h8.5v10.5h-8.5zM56 40h8.5v10.5h-8.5zM416 40h8.5v10.5h-8.5zM464 40h8.5v10.5h-8.5zM16 50h8.5v10.5h-8.5zM56 50h8.5v10.5h-8.5zM432 50h8.5v10.5h-8.5zM472 50h8.5v10.5h-8.5zM496 50h8.5v10.5h-8.5zM-16 60h32.5v10.5h-32.5zM56 60h8.5v10.5h-8.5zM480 60h8.5v10.5h-8.5zM376 70h8.5v10.5h-8.5zM48 80h8.5v10.5h-8.5zM176 80h8.5v10.5h-8.5zM384 90h8.5v10.5h-8.5zM112 100h8.5v10.5h-8.5zM392 100h8.5v10.5h-8.5zM120 110h16.5v10.5h-16.5zM400 110h16.5v10.5h-16.5zM24 130h8.5v10.5h-8.5zM16 140h8.5v10.5h-8.5zM8 150h8.5v10.5h-8.5zM-16 160h16.5v10.5h-16.5zM424 260h8.5v10.5h-8.5zM528 260h24.5v10.5h-24.5zM424 270h8.5v10.5h-8.5zM424 280h8.5v10.5h-8.5zM24 290h8.5v10.5h-8.5zM16 300h8.5v10.5h-8.5zM32 300h8.5v10.5h-8.5zM432 300h8.5v10.5h-8.5zM16 310h8.5v10.5h-8.5zM32 310h8.5v10.5h-8.5zM360 310h8.5v10.5h-8.5zM432 310h8.5v10.5h-8.5zM16 320h8.5v10.5h-8.5zM32 320h8.5v10.5h-8.5zM360 320h8.5v10.5h-8.5zM392 320h8.5v10.5h-8.5zM432 320h16.5v10.5h-16.5zM520 320h8.5v10.5h-8.5zM-16 330h16.5v10.5h-16.5zM16 330h8.5v10.5h-8.5zM32 330h8.5v10.5h-8.5zM360 330h8.5v10.5h-8.5zM392 330h8.5v10.5h-8.5zM-16 340h16.5v10.5h-16.5zM16 340h8.5v10.5h-8.5zM360 340h8.5v10.5h-8.5zM424 340h8.5v10.5h-8.5zM448 340h8.5v10.5h-8.5zM0 350h8.5v10.5h-8.5zM16 350h8.5v10.5h-8.5zM360 350h8.5v10.5h-8.5zM400 350h8.5v10.5h-8.5zM512 350h8.5v10.5h-8.5zM8 360h8.5v10.5h-8.5zM96 360h8.5v10.5h-8.5zM120 360h32.5v10.5h-32.5zM208 360h8.5v10.5h-8.5zM344 360h24.5v10.5h-24.5zM408 360h8.5v10.5h-8.5zM464 360h24.5v10.5h-24.5zM496 360h24.5v10.5h-24.5zM40 370h8.5v10.5h-8.5zM88 370h8.5v10.5h-8.5zM152 370h8.5v10.5h-8.5zM184 370h8.5v10.5h-8.5zM336 370h32.5v10.5h-32.5zM160 380h8.5v10.5h-8.5zM176 380h8.5v10.5h-8.5zM232 380h8.5v10.5h-8.5zM320 380h8.5v10.5h-8.5zM352 380h16.5v10.5h-16.5zM48 390h8.5v10.5h-8.5zM248 390h8.5v10.5h-8.5zM344 390h24.5v10.5h-24.5zM72 400h8.5v10.5h-8.5zM280 400h8.5v10.5h-8.5zM296 400h8.5v10.5h-8.5zM336 400h8.5v10.5h-8.5zM360 400h8.5v10.5h-8.5zM64 410h8.5v10.5h-8.5zM360 410h8.5v10.5h-8.5zM352 440h8.5v10.5h-8.5z"/>
<path fill="#0b0b0b" d="M392 -20h8.5v10.5h-8.5zM392 -10h8.5v10.5h-8.5zM64 0h8.5v10.5h-8.5zM400 0h32.5v10.5h-32.5zM16 10h8.5v10.5h-8.5zM440 10h8.5v10.5h-8.5zM16 20h8.5v10.5h-8.5zM400 20h8.5v10.5h-8.5zM504 20h8.5v10.5h-8.5zM16 30h8.5v10.5h-8.5zM384 30h8.5v10.5h-8.5zM416 30h8.5v10.5h-8.5zM504 30h16.5v10.5h-16.5zM16 40h8.5v10.5h-8.5zM376 40h8.5v10.5h-8.5zM424 40h8.5v10.5h-8.5zM504 40h16.5v10.5h-16.5zM520 50h8.5v10.5h-8.5zM104 60h8.5v10.5h-8.5zM440 60h8.5v10.5h-8.5zM472 60h8.5v10.5h-8.5zM496 60h8.5v10.5h-8.5zM56 70h8.5v10.5h-8.5zM104 70h8.5v10.5h-8.5zM440 70h8.5v10.5h-8.5zM480 70h16.5v10.5h-16.5zM528 70h24.5v10.5h-24.5zM104 80h8.5v10.5h-8.5zM440 80h8.5v10.5h-8.5zM48 90h8.5v10.5h-8.5zM104 90h8.5v10.5h-8.5zM152 90h24.5v10.5h-24.5zM432 90h8.5v10.5h-8.5zM40 100h8.5v10.5h-8.5zM144 100h8.5v10.5h-8.5zM424 100h8.5v10.5h-8.5zM136 110h8.5v10.5h-8.5zM416 110h8.5v10.5h-8.5zM32 120h8.5v10.5h-8.5zM0 160h8.5v10.5h-8.5zM-16 170h16.5v10.5h-16.5zM424 240h8.5v10.5h-8.5zM424 250h8.5v10.5h-8.5zM432 260h8.5v10.5h-8.5zM432 270h8.5v10.5h-8.5zM-16 280h16.5v10.5h-16.5zM24 280h8.5v10.5h-8.5zM432 280h8.5v10.5h-8.5zM-16 290h16.5v10.5h-16.5zM16 290h8.5v10.5h-8.5zM32 290h8.5v10.5h-8.5zM424 290h16.5v10.5h-16.5zM-16 300h16.5v10.5h-16.5zM368 300h24.5v10.5h-24.5zM424 300h8.5v10.5h-8.5zM-16 310h16.5v10.5h-16.5zM392 310h8.5v10.5h-8.5zM424 310h8.5v10.5h-8.5zM440 310h8.5v10.5h-8.5zM520 310h8.5v10.5h-8.5zM-16 320h16.5v10.5h-16.5zM352 320h8.5v10.5h-8.5zM424 320h8.5v10.5h-8.5zM0 330h8.5v10.5h-8.5zM352 330h8.5v10.5h-8.5zM424 330h8.5v10.5h-8.5zM448 330h8.5v10.5h-8.5zM0 340h16.5v10.5h-16.5zM352 340h8.5v10.5h-8.5zM512 340h8.5v10.5h-8.5zM8 350h8.5v10.5h-8.5zM136 350h16.5v10.5h-16.5zM192 350h16.5v10.5h-16.5zM344 350h16.5v10.5h-16.5zM416 350h8.5v10.5h-8.5zM456 350h8.5v10.5h-8.5zM496 350h16.5v10.5h-16.5zM40 360h8.5v10.5h-8.5zM152 360h8.5v10.5h-8.5zM184 360h8.5v10.5h-8.5zM336 360h8.5v10.5h-8.5zM224 370h8.5v10.5h-8.5zM328 370h8.5v10.5h-8.5zM80 380h8.5v10.5h-8.5zM168 380h8.5v10.5h-8.5zM256 390h16.5v10.5h-16.5zM304 390h8.5v10.5h-8.5zM56 400h8.5v10.5h-8.5zM288 400h8.5v10.5h-8.5zM344 400h16.5v10.5h-16.5zM336 410h8.5v10.5h-8.5zM352 430h8.5v10.5h-8.5zM336 440h16.5v10.5h-16.5z"/>
<path fill="#0c0c0c" d="M104 -20h8.5v10.5h-8.5zM184 -20h8.5v10.5h-8.5zM104 -10h8.5v10.5h-8.5zM184 -10h8.5v10.5h-8.5zM184 0h8.5v10.5h-8.5zM392 0h8.5v10.5h-8.5zM64 10h8.5v10.5h-8.5zM392 10h48.5v10.5h-48.5zM392 20h8.5v10.5h-8.5zM408 20h16.5v10.5h-16.5zM440 20h8.5v10.5h-8.5zM424 30h8.5v10.5h-8.5zM440 30h16.5v10.5h-16.5zM184 40h8.5v10.5h-8.5zM432 40h16.5v10.5h-16.5zM456 40h8.5v10.5h-8.5zM-16 50h16.5v10.5h-16.5zM8 50h8.5v10.5h-8.5zM104 50h8.5v10.5h-8.5zM184 50h8.5v10.5h-8.5zM368 50h8.5v10.5h-8.5zM440 50h8.5v10.5h-8.5zM464 50h8.5v10.5h-8.5zM504 50h8.5v10.5h-8.5zM184 60h8.5v10.5h-8.5zM368 60h8.5v10.5h-8.5zM184 70h8.5v10.5h-8.5zM56 80h8.5v10.5h-8.5zM376 80h8.5v10.5h-8.5zM176 90h8.5v10.5h-8.5zM440 90h8.5v10.5h-8.5zM104 100h8.5v10.5h-8.5zM40 110h8.5v10.5h-8.5zM112 110h8.5v10.5h-8.5zM392 110h8.5v10.5h-8.5zM128 120h8.5v10.5h-8.5zM400 120h16.5v10.5h-16.5zM24 140h8.5v10.5h-8.5zM16 150h8.5v10.5h-8.5zM424 220h8.5v10.5h-8.5zM424 230h8.5v10.5h-8.5zM416 240h8.5v10.5h-8.5zM432 240h8.5v10.5h-8.5zM416 250h8.5v10.5h-8.5zM432 250h8.5v10.5h-8.5zM528 250h24.5v10.5h-24.5zM-16 260h16.5v10.5h-16.5zM416 260h8.5v10.5h-8.5zM-16 270h16.5v10.5h-16.5zM24 270h8.5v10.5h-8.5zM416 270h8.5v10.5h-8.5zM16 280h8.5v10.5h-8.5zM32 280h8.5v10.5h-8.5zM416 280h8.5v10.5h-8.5zM0 290h8.5v10.5h-8.5zM0 300h16.5v10.5h-16.5zM360 300h8.5v10.5h-8.5zM392 300h8.5v10.5h-8.5zM440 300h8.5v10.5h-8.5zM520 300h8.5v10.5h-8.5zM0 310h16.5v10.5h-16.5zM352 310h8.5v10.5h-8.5zM0 320h16.5v10.5h-16.5zM448 320h8.5v10.5h-8.5zM8 330h8.5v10.5h-8.5zM144 330h16.5v10.5h-16.5zM344 330h8.5v10.5h-8.5zM400 330h8.5v10.5h-8.5zM512 330h8.5v10.5h-8.5zM144 340h16.5v10.5h-16.5zM344 340h8.5v10.5h-8.5zM400 340h8.5v10.5h-8.5zM416 340h8.5v10.5h-8.5zM456 340h8.5v10.5h-8.5zM504 340h8.5v10.5h-8.5zM40 350h8.5v10.5h-8.5zM104 350h32.5v10.5h-32.5zM152 350h8.5v10.5h-8.5zM184 350h8.5v10.5h-8.5zM208 350h8.5v10.5h-8.5zM408 350h8.5v10.5h-8.5zM464 350h32.5v10.5h-32.5zM88 360h8.5v10.5h-8.5zM216 360h8.5v10.5h-8.5zM160 370h24.5v10.5h-24.5zM320 370h8.5v10.5h-8.5zM48 380h8.5v10.5h-8.5zM240 380h8.5v10.5h-8.5zM312 380h8.5v10.5h-8.5zM72 390h8.5v10.5h-8.5zM272 390h8.5v10.5h-8.5zM64 400h8.5v10.5h-8.5zM344 410h16.5v10.5h-16.5zM336 420h8.5v10.5h-8.5zM352 420h8.5v10.5h-8.5zM336 430h16.5v10.5h-16.5z"/>
<path fill="#0d0d0d" d="M8 -20h8.5v10.5h-8.5zM72 -20h8.5v10.5h-8.5zM384 -20h8.5v10.5h-8.5zM8 -10h8.5v10.5h-8.5zM72 -10h8.5v10.5h-8.5zM384 -10h8.5v10.5h-8.5zM104 0h8.5v10.5h-8.5zM384 0h8.5v10.5h-8.5zM184 10h8.5v10.5h-8.5zM64 20h8.5v10.5h-8.5zM384 20h8.5v10.5h-8.5zM424 20h16.5v10.5h-16.5zM64 30h8.5v10.5h-8.5zM184 30h8.5v10.5h-8.5zM376 30h8.5v10.5h-8.5zM432 30h8.5v10.5h-8.5zM8 40h8.5v10.5h-8.5zM64 40h8.5v10.5h-8.5zM104 40h8.5v10.5h-8.5zM368 40h8.5v10.5h-8.5zM448 40h8.5v10.5h-8.5zM0 50h8.5v10.5h-8.5zM64 50h8.5v10.5h-8.5zM448 50h16.5v10.5h-16.5zM512 50h8.5v10.5h-8.5zM64 60h8.5v10.5h-8.5zM448 60h8.5v10.5h-8.5zM464 60h8.5v10.5h-8.5zM520 60h8.5v10.5h-8.5zM448 70h8.5v10.5h-8.5zM472 70h8.5v10.5h-8.5zM496 70h8.5v10.5h-8.5zM184 80h8.5v10.5h-8.5zM448 80h8.5v10.5h-8.5zM480 80h16.5v10.5h-16.5zM528 80h24.5v10.5h-24.5zM56 90h8.5v10.5h-8.5zM48 100h8.5v10.5h-8.5zM152 100h24.5v10.5h-24.5zM384 100h8.5v10.5h-8.5zM432 100h8.5v10.5h-8.5zM144 110h8.5v10.5h-8.5zM424 110h8.5v10.5h-8.5zM120 120h8.5v10.5h-8.5zM416 120h8.5v10.5h-8.5zM32 130h8.5v10.5h-8.5zM408 130h8.5v10.5h-8.5zM8 160h8.5v10.5h-8.5zM0 170h8.5v10.5h-8.5zM-16 180h16.5v10.5h-16.5zM-16 190h16.5v10.5h-16.5zM424 200h8.5v10.5h-8.5zM-16 210h16.5v10.5h-16.5zM416 210h24.5v10.5h-24.5zM-16 220h16.5v10.5h-16.5zM416 220h8.5v10.5h-8.5zM432 220h8.5v10.5h-8.5zM-16 230h16.5v10.5h-16.5zM416 230h8.5v10.5h-8.5zM432 230h8.5v10.5h-8.5zM-16 240h16.5v10.5h-16.5zM536 240h16.5v10.5h-16.5zM-16 250h16.5v10.5h-16.5zM0 270h8.5v10.5h-8.5zM32 270h8.5v10.5h-8.5zM0 280h16.5v10.5h-16.5zM8 290h8.5v10.5h-8.5zM152 290h8.5v10.5h-8.5zM416 290h8.5v10.5h-8.5zM440 290h8.5v10.5h-8.5zM520 290h8.5v10.5h-8.5zM152 300h8.5v10.5h-8.5zM352 300h8.5v10.5h-8.5zM416 300h8.5v10.5h-8.5zM144 310h16.5v10.5h-16.5zM400 310h8.5v10.5h-8.5zM416 310h8.5v10.5h-8.5zM448 310h8.5v10.5h-8.5zM144 320h16.5v10.5h-16.5zM344 320h8.5v10.5h-8.5zM400 320h8.5v10.5h-8.5zM416 320h8.5v10.5h-8.5zM512 320h8.5v10.5h-8.5zM416 330h8.5v10.5h-8.5zM456 330h8.5v10.5h-8.5zM40 340h8.5v10.5h-8.5zM136 340h8.5v10.5h-8.5zM192 340h16.5v10.5h-16.5zM408 340h8.5v10.5h-8.5zM464 340h8.5v10.5h-8.5zM496 340h8.5v10.5h-8.5zM96 350h8.5v10.5h-8.5zM160 350h8.5v10.5h-8.5zM336 350h8.5v10.5h-8.5zM160 360h8.5v10.5h-8.5zM176 360h8.5v10.5h-8.5zM328 360h8.5v10.5h-8.5zM80 370h8.5v10.5h-8.5zM232 370h8.5v10.5h-8.5zM248 380h8.5v10.5h-8.5zM56 390h8.5v10.5h-8.5zM280 390h8.5v10.5h-8.5zM296 390h8.5v10.5h-8.5zM344 420h8.5v10.5h-8.5z"/>
<path fill="#0e0e0e" d="M-16 -20h24.5v10.5h-24.5zM360 -20h24.5v10.5h-24.5zM-16 -10h24.5v10.5h-24.5zM360 -10h24.5v10.5h-24.5zM8 0h8.5v10.5h-8.5zM72 0h8.5v10.5h-8.5zM384 10h8.5v10.5h-8.5zM184 20h8.5v10.5h-8.5zM8 30h8.5v10.5h-8.5zM368 30h8.5v10.5h-8.5zM-16 40h24.5v10.5h-24.5zM456 60h8.5v10.5h-8.5zM504 60h8.5v10.5h-8.5zM64 70h8.5v10.5h-8.5zM96 70h8.5v10.5h-8.5zM368 70h8.5v10.5h-8.5zM464 70h8.5v10.5h-8.5zM64 80h8.5v10.5h-8.5zM96 80h8.5v10.5h-8.5zM472 80h8.5v10.5h-8.5zM96 90h8.5v10.5h-8.5zM448 90h8.5v10.5h-8.5zM480 90h8.5v10.5h-8.5zM176 100h8.5v10.5h-8.5zM440 100h8.5v10.5h-8.5zM104 110h8.5v10.5h-8.5zM40 120h8.5v10.5h-8.5zM112 120h8.5v10.5h-8.5zM136 120h8.5v10.5h-8.5zM24 150h8.5v10.5h-8.5zM16 160h8.5v10.5h-8.5zM416 190h16.5v10.5h-16.5zM-16 200h16.5v10.5h-16.5zM416 200h8.5v10.5h-8.5zM432 200h8.5v10.5h-8.5zM528 240h8.5v10.5h-8.5zM0 260h8.5v10.5h-8.5zM24 260h16.5v10.5h-16.5zM16 270h8.5v10.5h-8.5zM440 270h8.5v10.5h-8.5zM152 280h8.5v10.5h-8.5zM440 280h8.5v10.5h-8.5zM520 280h8.5v10.5h-8.5zM40 290h8.5v10.5h-8.5zM144 290h8.5v10.5h-8.5zM376 290h16.5v10.5h-16.5zM40 300h8.5v10.5h-8.5zM144 300h8.5v10.5h-8.5zM160 300h8.5v10.5h-8.5zM400 300h8.5v10.5h-8.5zM448 300h8.5v10.5h-8.5zM40 310h8.5v10.5h-8.5zM160 310h8.5v10.5h-8.5zM344 310h8.5v10.5h-8.5zM408 310h8.5v10.5h-8.5zM40 320h8.5v10.5h-8.5zM160 320h8.5v10.5h-8.5zM408 320h8.5v10.5h-8.5zM456 320h16.5v10.5h-16.5zM40 330h8.5v10.5h-8.5zM136 330h8.5v10.5h-8.5zM160 330h8.5v10.5h-8.5zM408 330h8.5v10.5h-8.5zM464 330h16.5v10.5h-16.5zM504 330h8.5v10.5h-8.5zM128 340h8.5v10.5h-8.5zM160 340h8.5v10.5h-8.5zM184 340h8.5v10.5h-8.5zM336 340h8.5v10.5h-8.5zM472 340h24.5v10.5h-24.5zM168 350h16.5v10.5h-16.5zM168 360h8.5v10.5h-8.5zM224 360h8.5v10.5h-8.5zM48 370h8.5v10.5h-8.5zM312 370h8.5v10.5h-8.5zM256 380h8.5v10.5h-8.5zM304 380h8.5v10.5h-8.5zM64 390h8.5v10.5h-8.5zM288 390h8.5v10.5h-8.5z"/>
<path fill="#0f0f0f" d="M352 -20h8.5v10.5h-8.5zM352 -10h8.5v10.5h-8.5zM-16 0h24.5v10.5h-24.5zM368 0h16.5v10.5h-16.5zM8 10h8.5v10.5h-8.5zM104 10h8.5v10.5h-8.5zM376 10h8.5v10.5h-8.5zM8 20h8.5v10.5h-8.5zM104 20h8.5v10.5h-8.5zM376 20h8.5v10.5h-8.5zM-16 30h16.5v10.5h-16.5zM104 30h8.5v10.5h-8.5zM360 40h8.5v10.5h-8.5zM360 50h8.5v10.5h-8.5zM96 60h8.5v10.5h-8.5zM512 60h8.5v10.5h-8.5zM456 70h8.5v10.5h-8.5zM456 80h16.5v10.5h-16.5zM496 80h8.5v10.5h-8.5zM64 90h8.5v10.5h-8.5zM184 90h8.5v10.5h-8.5zM376 90h8.5v10.5h-8.5zM456 90h24.5v10.5h-24.5zM488 90h8.5v10.5h-8.5zM528 90h24.5v10.5h-24.5zM56 100h8.5v10.5h-8.5zM96 100h8.5v10.5h-8.5zM48 110h8.5v10.5h-8.5zM152 110h24.5v10.5h-24.5zM392 120h8.5v10.5h-8.5zM120 130h16.5v10.5h-16.5zM400 130h8.5v10.5h-8.5zM416 130h8.5v10.5h-8.5zM32 140h8.5v10.5h-8.5zM408 140h8.5v10.5h-8.5zM0 180h8.5v10.5h-8.5zM416 180h16.5v10.5h-16.5zM432 190h8.5v10.5h-8.5zM440 200h8.5v10.5h-8.5zM440 210h8.5v10.5h-8.5zM440 220h8.5v10.5h-8.5zM408 230h8.5v10.5h-8.5zM440 230h8.5v10.5h-8.5zM528 230h24.5v10.5h-24.5zM0 240h8.5v10.5h-8.5zM408 240h8.5v10.5h-8.5zM440 240h8.5v10.5h-8.5zM0 250h8.5v10.5h-8.5zM408 250h8.5v10.5h-8.5zM440 250h8.5v10.5h-8.5zM16 260h8.5v10.5h-8.5zM152 260h8.5v10.5h-8.5zM408 260h8.5v10.5h-8.5zM440 260h8.5v10.5h-8.5zM8 270h8.5v10.5h-8.5zM152 270h8.5v10.5h-8.5zM408 270h8.5v10.5h-8.5zM40 280h8.5v10.5h-8.5zM144 280h8.5v10.5h-8.5zM408 280h8.5v10.5h-8.5zM160 290h8.5v10.5h-8.5zM368 290h8.5v10.5h-8.5zM392 290h24.5v10.5h-24.5zM344 300h8.5v10.5h-8.5zM408 300h8.5v10.5h-8.5zM456 310h16.5v10.5h-16.5zM512 310h8.5v10.5h-8.5zM136 320h8.5v10.5h-8.5zM168 320h8.5v10.5h-8.5zM472 320h8.5v10.5h-8.5zM168 330h32.5v10.5h-32.5zM336 330h8.5v10.5h-8.5zM480 330h24.5v10.5h-24.5zM112 340h16.5v10.5h-16.5zM168 340h16.5v10.5h-16.5zM88 350h8.5v10.5h-8.5zM216 350h8.5v10.5h-8.5zM328 350h8.5v10.5h-8.5zM320 360h8.5v10.5h-8.5zM240 370h8.5v10.5h-8.5zM72 380h8.5v10.5h-8.5zM264 380h8.5v10.5h-8.5z"/>
<path fill="#101010" d="M80 -20h8.5v10.5h-8.5zM96 -20h8.5v10.5h-8.5zM80 -10h8.5v10.5h-8.5zM96 -10h8.5v10.5h-8.5zM360 0h8.5v10.5h-8.5zM-16 10h24.5v10.5h-24.5zM72 10h8.5v10.5h-8.5zM368 10h8.5v10.5h-8.5zM-16 20h24.5v10.5h-24.5zM368 20h8.5v10.5h-8.5zM0 30h8.5v10.5h-8.5zM360 30h8.5v10.5h-8.5zM72 60h8.5v10.5h-8.5zM360 60h8.5v10.5h-8.5zM72 70h8.5v10.5h-8.5zM504 70h8.5v10.5h-8.5zM520 70h8.5v10.5h-8.5zM72 80h8.5v10.5h-8.5zM88 80h8.5v10.5h-8.5zM72 90h8.5v10.5h-8.5zM88 90h8.5v10.5h-8.5zM64 100h8.5v10.5h-8.5zM448 100h16.5v10.5h-16.5zM472 100h16.5v10.5h-16.5zM528 100h24.5v10.5h-24.5zM96 110h8.5v10.5h-8.5zM176 110h8.5v10.5h-8.5zM432 110h8.5v10.5h-8.5zM104 120h8.5v10.5h-8.5zM144 120h8.5v10.5h-8.5zM424 120h8.5v10.5h-8.5zM136 130h8.5v10.5h-8.5zM416 140h8.5v10.5h-8.5zM408 150h8.5v10.5h-8.5zM24 160h8.5v10.5h-8.5zM8 170h8.5v10.5h-8.5zM416 170h8.5v10.5h-8.5zM0 190h8.5v10.5h-8.5zM440 190h8.5v10.5h-8.5zM0 200h8.5v10.5h-8.5zM408 200h8.5v10.5h-8.5zM448 200h8.5v10.5h-8.5zM0 210h8.5v10.5h-8.5zM408 210h8.5v10.5h-8.5zM0 220h8.5v10.5h-8.5zM408 220h8.5v10.5h-8.5zM536 220h16.5v10.5h-16.5zM0 230h8.5v10.5h-8.5zM24 250h16.5v10.5h-16.5zM152 250h8.5v10.5h-8.5zM8 260h8.5v10.5h-8.5zM40 270h8.5v10.5h-8.5zM144 270h8.5v10.5h-8.5zM160 270h8.5v10.5h-8.5zM160 280h8.5v10.5h-8.5zM352 290h16.5v10.5h-16.5zM448 290h8.5v10.5h-8.5zM136 300h8.5v10.5h-8.5zM456 300h8.5v10.5h-8.5zM136 310h8.5v10.5h-8.5zM168 310h8.5v10.5h-8.5zM472 310h8.5v10.5h-8.5zM336 320h8.5v10.5h-8.5zM480 320h8.5v10.5h-8.5zM504 320h8.5v10.5h-8.5zM128 330h8.5v10.5h-8.5zM200 330h8.5v10.5h-8.5zM104 340h8.5v10.5h-8.5zM208 340h8.5v10.5h-8.5zM48 360h8.5v10.5h-8.5zM80 360h8.5v10.5h-8.5zM232 360h8.5v10.5h-8.5zM304 370h8.5v10.5h-8.5zM56 380h8.5v10.5h-8.5zM272 380h8.5v10.5h-8.5zM296 380h8.5v10.5h-8.5z"/>
<path fill="#111111" d="M88 -20h8.5v10.5h-8.5zM88 -10h8.5v10.5h-8.5zM96 0h8.5v10.5h-8.5zM352 0h8.5v10.5h-8.5zM360 10h8.5v10.5h-8.5zM72 20h8.5v10.5h-8.5zM360 20h8.5v10.5h-8.5zM72 40h8.5v10.5h-8.5zM72 50h8.5v10.5h-8.5zM96 50h8.5v10.5h-8.5zM80 70h16.5v10.5h-16.5zM512 70h8.5v10.5h-8.5zM80 80h8.5v10.5h-8.5zM368 80h8.5v10.5h-8.5zM80 90h8.5v10.5h-8.5zM72 100h24.5v10.5h-24.5zM184 100h8.5v10.5h-8.5zM464 100h8.5v10.5h-8.5zM488 100h8.5v10.5h-8.5zM56 110h8.5v10.5h-8.5zM384 110h8.5v10.5h-8.5zM528 110h24.5v10.5h-24.5zM152 120h24.5v10.5h-24.5zM536 120h16.5v10.5h-16.5zM40 130h8.5v10.5h-8.5zM112 130h8.5v10.5h-8.5zM400 140h8.5v10.5h-8.5zM32 150h8.5v10.5h-8.5zM416 150h8.5v10.5h-8.5zM408 160h16.5v10.5h-16.5zM536 160h16.5v10.5h-16.5zM16 170h8.5v10.5h-8.5zM408 170h8.5v10.5h-8.5zM424 170h8.5v10.5h-8.5zM408 180h8.5v10.5h-8.5zM432 180h16.5v10.5h-16.5zM408 190h8.5v10.5h-8.5zM448 190h8.5v10.5h-8.5zM448 210h8.5v10.5h-8.5zM536 210h16.5v10.5h-16.5zM528 220h8.5v10.5h-8.5zM152 240h8.5v10.5h-8.5zM16 250h8.5v10.5h-8.5zM144 250h8.5v10.5h-8.5zM160 250h8.5v10.5h-8.5zM40 260h8.5v10.5h-8.5zM144 260h8.5v10.5h-8.5zM160 260h8.5v10.5h-8.5zM520 270h8.5v10.5h-8.5zM400 280h8.5v10.5h-8.5zM448 280h8.5v10.5h-8.5zM136 290h8.5v10.5h-8.5zM344 290h8.5v10.5h-8.5zM168 300h8.5v10.5h-8.5zM464 300h16.5v10.5h-16.5zM512 300h8.5v10.5h-8.5zM336 310h8.5v10.5h-8.5zM480 310h8.5v10.5h-8.5zM176 320h8.5v10.5h-8.5zM488 320h16.5v10.5h-16.5zM96 340h8.5v10.5h-8.5zM328 340h8.5v10.5h-8.5zM312 360h8.5v10.5h-8.5zM72 370h8.5v10.5h-8.5zM248 370h8.5v10.5h-8.5zM64 380h8.5v10.5h-8.5zM280 380h16.5v10.5h-16.5z"/>
<path fill="#121212" d="M192 -20h8.5v10.5h-8.5zM344 -20h8.5v10.5h-8.5zM192 -10h8.5v10.5h-8.5zM344 -10h8.5v10.5h-8.5zM80 0h8.5v10.5h-8.5zM72 30h8.5v10.5h-8.5zM96 40h8.5v10.5h-8.5zM80 60h16.5v10.5h-16.5zM192 60h8.5v10.5h-8.5zM192 70h8.5v10.5h-8.5zM504 80h8.5v10.5h-8.5zM520 80h8.5v10.5h-8.5zM496 90h8.5v10.5h-8.5zM64 110h32.5v10.5h-32.5zM440 110h8.5v10.5h-8.5zM464 110h24.5v10.5h-24.5zM48 120h8.5v10.5h-8.5zM96 120h8.5v10.5h-8.5zM176 120h8.5v10.5h-8.5zM528 120h8.5v10.5h-8.5zM104 130h8.5v10.5h-8.5zM144 130h8.5v10.5h-8.5zM160 130h16.5v10.5h-16.5zM392 130h8.5v10.5h-8.5zM424 130h8.5v10.5h-8.5zM528 130h24.5v10.5h-24.5zM120 140h24.5v10.5h-24.5zM528 140h24.5v10.5h-24.5zM528 150h24.5v10.5h-24.5zM528 160h8.5v10.5h-8.5zM24 170h8.5v10.5h-8.5zM528 170h24.5v10.5h-24.5zM8 180h8.5v10.5h-8.5zM448 180h8.5v10.5h-8.5zM528 180h24.5v10.5h-24.5zM456 190h8.5v10.5h-8.5zM536 190h16.5v10.5h-16.5zM528 200h24.5v10.5h-24.5zM528 210h8.5v10.5h-8.5zM144 220h8.5v10.5h-8.5zM448 220h8.5v10.5h-8.5zM144 230h16.5v10.5h-16.5zM448 230h8.5v10.5h-8.5zM24 240h16.5v10.5h-16.5zM144 240h8.5v10.5h-8.5zM160 240h8.5v10.5h-8.5zM8 250h8.5v10.5h-8.5zM448 260h8.5v10.5h-8.5zM400 270h8.5v10.5h-8.5zM448 270h8.5v10.5h-8.5zM136 280h8.5v10.5h-8.5zM392 280h8.5v10.5h-8.5zM168 290h8.5v10.5h-8.5zM456 290h16.5v10.5h-16.5zM336 300h8.5v10.5h-8.5zM176 310h8.5v10.5h-8.5zM504 310h8.5v10.5h-8.5zM128 320h8.5v10.5h-8.5zM184 320h16.5v10.5h-16.5zM120 330h8.5v10.5h-8.5zM328 330h8.5v10.5h-8.5zM88 340h8.5v10.5h-8.5zM48 350h8.5v10.5h-8.5zM224 350h8.5v10.5h-8.5zM320 350h8.5v10.5h-8.5zM240 360h8.5v10.5h-8.5zM56 370h8.5v10.5h-8.5zM256 370h8.5v10.5h-8.5zM296 370h8.5v10.5h-8.5z"/>
<path fill="#131313" d="M88 0h8.5v10.5h-8.5zM192 0h8.5v10.5h-8.5zM96 10h8.5v10.5h-8.5zM352 10h8.5v10.5h-8.5zM80 50h8.5v10.5h-8.5zM192 50h8.5v10.5h-8.5zM360 70h8.5v10.5h-8.5zM376 100h8.5v10.5h-8.5zM448 110h16.5v10.5h-16.5zM488 110h8.5v10.5h-8.5zM56 120h8.5v10.5h-8.5zM88 120h8.5v10.5h-8.5zM432 120h8.5v10.5h-8.5zM152 130h8.5v10.5h-8.5zM176 130h8.5v10.5h-8.5zM40 140h8.5v10.5h-8.5zM112 140h8.5v10.5h-8.5zM144 140h8.5v10.5h-8.5zM160 140h16.5v10.5h-16.5zM424 140h8.5v10.5h-8.5zM400 150h8.5v10.5h-8.5zM32 160h8.5v10.5h-8.5zM424 160h8.5v10.5h-8.5zM432 170h8.5v10.5h-8.5zM16 180h8.5v10.5h-8.5zM456 180h8.5v10.5h-8.5zM8 190h8.5v10.5h-8.5zM528 190h8.5v10.5h-8.5zM136 200h16.5v10.5h-16.5zM456 200h8.5v10.5h-8.5zM136 210h24.5v10.5h-24.5zM456 210h8.5v10.5h-8.5zM136 220h8.5v10.5h-8.5zM152 220h8.5v10.5h-8.5zM160 230h8.5v10.5h-8.5zM8 240h16.5v10.5h-16.5zM448 240h8.5v10.5h-8.5zM40 250h8.5v10.5h-8.5zM448 250h8.5v10.5h-8.5zM400 260h8.5v10.5h-8.5zM520 260h8.5v10.5h-8.5zM136 270h8.5v10.5h-8.5zM48 280h8.5v10.5h-8.5zM168 280h8.5v10.5h-8.5zM384 280h8.5v10.5h-8.5zM456 280h8.5v10.5h-8.5zM48 290h8.5v10.5h-8.5zM336 290h8.5v10.5h-8.5zM472 290h8.5v10.5h-8.5zM512 290h8.5v10.5h-8.5zM48 300h8.5v10.5h-8.5zM480 300h8.5v10.5h-8.5zM488 310h8.5v10.5h-8.5zM104 330h16.5v10.5h-16.5zM208 330h8.5v10.5h-8.5zM216 340h8.5v10.5h-8.5zM80 350h8.5v10.5h-8.5zM312 350h8.5v10.5h-8.5zM304 360h8.5v10.5h-8.5zM264 370h8.5v10.5h-8.5z"/>
<path fill="#141414" d="M344 0h8.5v10.5h-8.5zM80 10h8.5v10.5h-8.5zM96 20h8.5v10.5h-8.5zM352 20h8.5v10.5h-8.5zM96 30h8.5v10.5h-8.5zM352 30h8.5v10.5h-8.5zM192 40h8.5v10.5h-8.5zM352 40h8.5v10.5h-8.5zM88 50h8.5v10.5h-8.5zM352 50h8.5v10.5h-8.5zM192 80h8.5v10.5h-8.5zM512 80h8.5v10.5h-8.5zM520 90h8.5v10.5h-8.5zM496 100h8.5v10.5h-8.5zM184 110h8.5v10.5h-8.5zM64 120h24.5v10.5h-24.5zM384 120h8.5v10.5h-8.5zM472 120h16.5v10.5h-16.5zM48 130h8.5v10.5h-8.5zM96 130h8.5v10.5h-8.5zM152 140h8.5v10.5h-8.5zM392 140h8.5v10.5h-8.5zM120 150h24.5v10.5h-24.5zM160 150h16.5v10.5h-16.5zM424 150h8.5v10.5h-8.5zM400 160h8.5v10.5h-8.5zM440 170h16.5v10.5h-16.5zM24 180h8.5v10.5h-8.5zM464 180h8.5v10.5h-8.5zM16 190h8.5v10.5h-8.5zM128 190h24.5v10.5h-24.5zM464 190h8.5v10.5h-8.5zM8 200h8.5v10.5h-8.5zM120 200h16.5v10.5h-16.5zM152 200h8.5v10.5h-8.5zM8 210h8.5v10.5h-8.5zM120 210h16.5v10.5h-16.5zM8 220h8.5v10.5h-8.5zM128 220h8.5v10.5h-8.5zM160 220h8.5v10.5h-8.5zM8 230h8.5v10.5h-8.5zM24 230h8.5v10.5h-8.5zM136 230h8.5v10.5h-8.5zM400 230h8.5v10.5h-8.5zM136 240h8.5v10.5h-8.5zM400 240h8.5v10.5h-8.5zM136 250h8.5v10.5h-8.5zM168 250h8.5v10.5h-8.5zM400 250h8.5v10.5h-8.5zM136 260h8.5v10.5h-8.5zM168 260h8.5v10.5h-8.5zM48 270h8.5v10.5h-8.5zM168 270h8.5v10.5h-8.5zM456 270h8.5v10.5h-8.5zM344 280h16.5v10.5h-16.5zM376 280h8.5v10.5h-8.5zM464 280h8.5v10.5h-8.5zM176 300h8.5v10.5h-8.5zM48 310h8.5v10.5h-8.5zM128 310h8.5v10.5h-8.5zM184 310h8.5v10.5h-8.5zM496 310h8.5v10.5h-8.5zM48 320h8.5v10.5h-8.5zM200 320h8.5v10.5h-8.5zM328 320h8.5v10.5h-8.5zM48 330h8.5v10.5h-8.5zM96 330h8.5v10.5h-8.5zM48 340h8.5v10.5h-8.5zM320 340h8.5v10.5h-8.5zM232 350h8.5v10.5h-8.5zM72 360h8.5v10.5h-8.5zM248 360h8.5v10.5h-8.5zM64 370h8.5v10.5h-8.5zM272 370h24.5v10.5h-24.5z"/>
<path fill="#151515" d="M336 -20h8.5v10.5h-8.5zM336 -10h8.5v10.5h-8.5zM88 10h8.5v10.5h-8.5zM192 10h8.5v10.5h-8.5zM80 20h8.5v10.5h-8.5zM80 30h8.5v10.5h-8.5zM192 30h8.5v10.5h-8.5zM80 40h16.5v10.5h-16.5zM352 60h8.5v10.5h-8.5zM504 90h8.5v10.5h-8.5zM520 100h8.5v10.5h-8.5zM440 120h8.5v10.5h-8.5zM464 120h8.5v10.5h-8.5zM88 130h8.5v10.5h-8.5zM104 140h8.5v10.5h-8.5zM176 140h8.5v10.5h-8.5zM40 150h8.5v10.5h-8.5zM112 150h8.5v10.5h-8.5zM144 150h16.5v10.5h-16.5zM120 160h32.5v10.5h-32.5zM160 160h16.5v10.5h-16.5zM432 160h8.5v10.5h-8.5zM32 170h8.5v10.5h-8.5zM128 170h24.5v10.5h-24.5zM160 170h8.5v10.5h-8.5zM400 170h8.5v10.5h-8.5zM456 170h16.5v10.5h-16.5zM120 180h40.5v10.5h-40.5zM24 190h8.5v10.5h-8.5zM120 190h8.5v10.5h-8.5zM152 190h8.5v10.5h-8.5zM16 200h8.5v10.5h-8.5zM464 200h8.5v10.5h-8.5zM16 210h8.5v10.5h-8.5zM112 210h8.5v10.5h-8.5zM160 210h8.5v10.5h-8.5zM400 210h8.5v10.5h-8.5zM16 220h16.5v10.5h-16.5zM112 220h16.5v10.5h-16.5zM400 220h8.5v10.5h-8.5zM456 220h8.5v10.5h-8.5zM16 230h8.5v10.5h-8.5zM32 230h8.5v10.5h-8.5zM104 230h16.5v10.5h-16.5zM128 230h8.5v10.5h-8.5zM456 230h8.5v10.5h-8.5zM40 240h8.5v10.5h-8.5zM104 240h8.5v10.5h-8.5zM168 240h8.5v10.5h-8.5zM48 260h8.5v10.5h-8.5zM456 260h8.5v10.5h-8.5zM392 270h8.5v10.5h-8.5zM336 280h8.5v10.5h-8.5zM360 280h16.5v10.5h-16.5zM128 290h8.5v10.5h-8.5zM128 300h8.5v10.5h-8.5zM504 300h8.5v10.5h-8.5zM192 310h8.5v10.5h-8.5zM328 310h8.5v10.5h-8.5zM120 320h8.5v10.5h-8.5zM88 330h8.5v10.5h-8.5zM320 330h8.5v10.5h-8.5zM80 340h8.5v10.5h-8.5zM304 350h8.5v10.5h-8.5zM56 360h8.5v10.5h-8.5zM296 360h8.5v10.5h-8.5z"/>
<path fill="#161616" d="M192 20h8.5v10.5h-8.5zM192 90h8.5v10.5h-8.5zM368 90h8.5v10.5h-8.5zM512 90h8.5v10.5h-8.5zM376 110h8.5v10.5h-8.5zM496 110h8.5v10.5h-8.5zM520 110h8.5v10.5h-8.5zM184 120h8.5v10.5h-8.5zM448 120h16.5v10.5h-16.5zM488 120h8.5v10.5h-8.5zM56 130h32.5v10.5h-32.5zM384 130h8.5v10.5h-8.5zM432 130h8.5v10.5h-8.5zM472 130h16.5v10.5h-16.5zM176 150h8.5v10.5h-8.5zM392 150h8.5v10.5h-8.5zM152 160h8.5v10.5h-8.5zM120 170h8.5v10.5h-8.5zM152 170h8.5v10.5h-8.5zM168 170h8.5v10.5h-8.5zM472 170h8.5v10.5h-8.5zM32 180h8.5v10.5h-8.5zM160 180h8.5v10.5h-8.5zM400 180h8.5v10.5h-8.5zM472 180h8.5v10.5h-8.5zM112 190h8.5v10.5h-8.5zM160 190h8.5v10.5h-8.5zM400 190h8.5v10.5h-8.5zM24 200h8.5v10.5h-8.5zM112 200h8.5v10.5h-8.5zM160 200h8.5v10.5h-8.5zM400 200h8.5v10.5h-8.5zM24 210h8.5v10.5h-8.5zM32 220h8.5v10.5h-8.5zM104 220h8.5v10.5h-8.5zM120 230h8.5v10.5h-8.5zM168 230h8.5v10.5h-8.5zM96 240h8.5v10.5h-8.5zM112 240h8.5v10.5h-8.5zM128 240h8.5v10.5h-8.5zM456 240h8.5v10.5h-8.5zM96 250h16.5v10.5h-16.5zM456 250h8.5v10.5h-8.5zM520 250h8.5v10.5h-8.5zM464 270h8.5v10.5h-8.5zM128 280h8.5v10.5h-8.5zM472 280h8.5v10.5h-8.5zM512 280h8.5v10.5h-8.5zM56 290h8.5v10.5h-8.5zM176 290h8.5v10.5h-8.5zM480 290h8.5v10.5h-8.5zM328 300h8.5v10.5h-8.5zM488 300h8.5v10.5h-8.5zM112 320h8.5v10.5h-8.5zM224 340h8.5v10.5h-8.5zM312 340h8.5v10.5h-8.5zM240 350h8.5v10.5h-8.5zM256 360h8.5v10.5h-8.5zM288 360h8.5v10.5h-8.5z"/>
<path fill="#171717" d="M344 10h8.5v10.5h-8.5zM88 20h8.5v10.5h-8.5zM88 30h8.5v10.5h-8.5zM360 80h8.5v10.5h-8.5zM504 100h8.5v10.5h-8.5zM496 120h8.5v10.5h-8.5zM520 120h8.5v10.5h-8.5zM464 130h8.5v10.5h-8.5zM488 130h8.5v10.5h-8.5zM520 130h8.5v10.5h-8.5zM48 140h8.5v10.5h-8.5zM96 140h8.5v10.5h-8.5zM432 140h8.5v10.5h-8.5zM472 140h8.5v10.5h-8.5zM520 140h8.5v10.5h-8.5zM104 150h8.5v10.5h-8.5zM432 150h8.5v10.5h-8.5zM520 150h8.5v10.5h-8.5zM40 160h8.5v10.5h-8.5zM112 160h8.5v10.5h-8.5zM176 160h8.5v10.5h-8.5zM440 160h40.5v10.5h-40.5zM520 160h8.5v10.5h-8.5zM112 170h8.5v10.5h-8.5zM112 180h8.5v10.5h-8.5zM168 180h8.5v10.5h-8.5zM32 190h8.5v10.5h-8.5zM472 190h8.5v10.5h-8.5zM32 210h8.5v10.5h-8.5zM104 210h8.5v10.5h-8.5zM464 210h8.5v10.5h-8.5zM40 230h8.5v10.5h-8.5zM96 230h8.5v10.5h-8.5zM120 240h8.5v10.5h-8.5zM48 250h8.5v10.5h-8.5zM112 250h8.5v10.5h-8.5zM128 250h8.5v10.5h-8.5zM88 260h16.5v10.5h-16.5zM128 260h8.5v10.5h-8.5zM464 260h8.5v10.5h-8.5zM128 270h8.5v10.5h-8.5zM56 280h8.5v10.5h-8.5zM176 280h8.5v10.5h-8.5zM56 300h8.5v10.5h-8.5zM184 300h8.5v10.5h-8.5zM496 300h8.5v10.5h-8.5zM120 310h8.5v10.5h-8.5zM200 310h8.5v10.5h-8.5zM96 320h16.5v10.5h-16.5zM208 320h8.5v10.5h-8.5zM320 320h8.5v10.5h-8.5zM80 330h8.5v10.5h-8.5zM216 330h8.5v10.5h-8.5zM304 340h8.5v10.5h-8.5zM72 350h8.5v10.5h-8.5zM296 350h8.5v10.5h-8.5zM64 360h8.5v10.5h-8.5zM264 360h8.5v10.5h-8.5zM280 360h8.5v10.5h-8.5z"/>
<path fill="#181818" d="M336 0h8.5v10.5h-8.5zM352 70h8.5v10.5h-8.5zM192 100h8.5v10.5h-8.5zM512 100h8.5v10.5h-8.5zM504 110h8.5v10.5h-8.5zM184 130h8.5v10.5h-8.5zM440 130h8.5v10.5h-8.5zM456 130h8.5v10.5h-8.5zM56 140h40.5v10.5h-40.5zM464 140h8.5v10.5h-8.5zM480 140h8.5v10.5h-8.5zM464 150h24.5v10.5h-24.5zM392 160h8.5v10.5h-8.5zM480 160h8.5v10.5h-8.5zM176 170h8.5v10.5h-8.5zM480 170h8.5v10.5h-8.5zM520 170h8.5v10.5h-8.5zM104 190h8.5v10.5h-8.5zM168 190h8.5v10.5h-8.5zM32 200h8.5v10.5h-8.5zM104 200h8.5v10.5h-8.5zM168 200h8.5v10.5h-8.5zM168 210h8.5v10.5h-8.5zM96 220h8.5v10.5h-8.5zM168 220h8.5v10.5h-8.5zM464 220h8.5v10.5h-8.5zM520 240h8.5v10.5h-8.5zM88 250h8.5v10.5h-8.5zM120 250h8.5v10.5h-8.5zM464 250h8.5v10.5h-8.5zM104 260h8.5v10.5h-8.5zM176 260h8.5v10.5h-8.5zM392 260h8.5v10.5h-8.5zM56 270h8.5v10.5h-8.5zM80 270h16.5v10.5h-16.5zM176 270h8.5v10.5h-8.5zM336 270h16.5v10.5h-16.5zM384 270h8.5v10.5h-8.5zM472 270h8.5v10.5h-8.5zM64 280h24.5v10.5h-24.5zM64 290h24.5v10.5h-24.5zM328 290h8.5v10.5h-8.5zM64 300h24.5v10.5h-24.5zM120 300h8.5v10.5h-8.5zM192 300h8.5v10.5h-8.5zM56 310h8.5v10.5h-8.5zM80 320h16.5v10.5h-16.5zM312 330h8.5v10.5h-8.5zM232 340h8.5v10.5h-8.5zM56 350h8.5v10.5h-8.5zM248 350h8.5v10.5h-8.5zM272 360h8.5v10.5h-8.5z"/>
<path fill="#191919" d="M200 -20h8.5v10.5h-8.5zM328 -20h8.5v10.5h-8.5zM200 -10h8.5v10.5h-8.5zM328 -10h8.5v10.5h-8.5zM344 20h8.5v10.5h-8.5zM344 30h8.5v10.5h-8.5zM344 40h8.5v10.5h-8.5zM344 50h8.5v10.5h-8.5zM512 110h8.5v10.5h-8.5zM504 120h16.5v10.5h-16.5zM448 130h8.5v10.5h-8.5zM496 130h8.5v10.5h-8.5zM384 140h8.5v10.5h-8.5zM488 140h8.5v10.5h-8.5zM48 150h8.5v10.5h-8.5zM96 150h8.5v10.5h-8.5zM440 150h8.5v10.5h-8.5zM456 150h8.5v10.5h-8.5zM488 150h8.5v10.5h-8.5zM104 160h8.5v10.5h-8.5zM40 170h8.5v10.5h-8.5zM104 170h8.5v10.5h-8.5zM104 180h8.5v10.5h-8.5zM176 180h8.5v10.5h-8.5zM480 180h8.5v10.5h-8.5zM520 180h8.5v10.5h-8.5zM472 200h8.5v10.5h-8.5zM40 220h8.5v10.5h-8.5zM464 230h8.5v10.5h-8.5zM520 230h8.5v10.5h-8.5zM48 240h8.5v10.5h-8.5zM88 240h8.5v10.5h-8.5zM176 240h8.5v10.5h-8.5zM464 240h8.5v10.5h-8.5zM176 250h8.5v10.5h-8.5zM56 260h8.5v10.5h-8.5zM80 260h8.5v10.5h-8.5zM112 260h16.5v10.5h-16.5zM64 270h16.5v10.5h-16.5zM96 270h8.5v10.5h-8.5zM352 270h8.5v10.5h-8.5zM88 280h8.5v10.5h-8.5zM480 280h8.5v10.5h-8.5zM88 290h8.5v10.5h-8.5zM120 290h8.5v10.5h-8.5zM184 290h8.5v10.5h-8.5zM504 290h8.5v10.5h-8.5zM64 310h32.5v10.5h-32.5zM112 310h8.5v10.5h-8.5zM320 310h8.5v10.5h-8.5zM56 320h8.5v10.5h-8.5zM56 330h8.5v10.5h-8.5zM56 340h8.5v10.5h-8.5zM72 340h8.5v10.5h-8.5zM296 340h8.5v10.5h-8.5zM64 350h8.5v10.5h-8.5zM288 350h8.5v10.5h-8.5z"/>
<path fill="#1a1a1a" d="M368 100h8.5v10.5h-8.5zM376 120h8.5v10.5h-8.5zM504 130h16.5v10.5h-16.5zM184 140h8.5v10.5h-8.5zM440 140h24.5v10.5h-24.5zM496 140h8.5v10.5h-8.5zM512 140h8.5v10.5h-8.5zM56 150h8.5v10.5h-8.5zM80 150h16.5v10.5h-16.5zM448 150h8.5v10.5h-8.5zM96 160h8.5v10.5h-8.5zM488 160h8.5v10.5h-8.5zM392 170h8.5v10.5h-8.5zM488 170h8.5v10.5h-8.5zM40 180h8.5v10.5h-8.5zM480 190h8.5v10.5h-8.5zM520 190h8.5v10.5h-8.5zM520 200h8.5v10.5h-8.5zM96 210h8.5v10.5h-8.5zM520 220h8.5v10.5h-8.5zM176 230h8.5v10.5h-8.5zM392 250h8.5v10.5h-8.5zM104 270h8.5v10.5h-8.5zM120 270h8.5v10.5h-8.5zM376 270h8.5v10.5h-8.5zM512 270h8.5v10.5h-8.5zM96 280h8.5v10.5h-8.5zM120 280h8.5v10.5h-8.5zM328 280h8.5v10.5h-8.5zM488 290h8.5v10.5h-8.5zM88 300h8.5v10.5h-8.5zM96 310h16.5v10.5h-16.5zM64 320h16.5v10.5h-16.5zM312 320h8.5v10.5h-8.5zM72 330h8.5v10.5h-8.5zM304 330h8.5v10.5h-8.5zM240 340h8.5v10.5h-8.5zM256 350h8.5v10.5h-8.5z"/>
<path fill="#1b1b1b" d="M200 0h8.5v10.5h-8.5zM336 10h8.5v10.5h-8.5zM200 60h8.5v10.5h-8.5zM344 60h8.5v10.5h-8.5zM192 110h8.5v10.5h-8.5zM504 140h8.5v10.5h-8.5zM64 150h16.5v10.5h-16.5zM184 150h8.5v10.5h-8.5zM384 150h8.5v10.5h-8.5zM496 150h8.5v10.5h-8.5zM512 150h8.5v10.5h-8.5zM48 160h8.5v10.5h-8.5zM512 160h8.5v10.5h-8.5zM96 170h8.5v10.5h-8.5zM96 180h8.5v10.5h-8.5zM40 190h8.5v10.5h-8.5zM96 190h8.5v10.5h-8.5zM176 190h8.5v10.5h-8.5zM96 200h8.5v10.5h-8.5zM176 200h8.5v10.5h-8.5zM40 210h8.5v10.5h-8.5zM472 210h8.5v10.5h-8.5zM520 210h8.5v10.5h-8.5zM176 220h8.5v10.5h-8.5zM88 230h8.5v10.5h-8.5zM392 230h8.5v10.5h-8.5zM392 240h8.5v10.5h-8.5zM56 250h8.5v10.5h-8.5zM80 250h8.5v10.5h-8.5zM64 260h16.5v10.5h-16.5zM472 260h8.5v10.5h-8.5zM112 270h8.5v10.5h-8.5zM360 270h16.5v10.5h-16.5zM184 280h8.5v10.5h-8.5zM96 290h8.5v10.5h-8.5zM192 290h8.5v10.5h-8.5zM496 290h8.5v10.5h-8.5zM96 300h8.5v10.5h-8.5zM112 300h8.5v10.5h-8.5zM200 300h8.5v10.5h-8.5zM320 300h8.5v10.5h-8.5zM208 310h8.5v10.5h-8.5zM64 330h8.5v10.5h-8.5zM224 330h8.5v10.5h-8.5zM64 340h8.5v10.5h-8.5zM264 350h8.5v10.5h-8.5zM280 350h8.5v10.5h-8.5z"/>
<path fill="#1c1c1c" d="M328 0h8.5v10.5h-8.5zM200 50h8.5v10.5h-8.5zM200 70h8.5v10.5h-8.5zM360 90h8.5v10.5h-8.5zM376 130h8.5v10.5h-8.5zM504 150h8.5v10.5h-8.5zM88 160h8.5v10.5h-8.5zM184 160h8.5v10.5h-8.5zM496 160h16.5v10.5h-16.5zM496 170h8.5v10.5h-8.5zM512 170h8.5v10.5h-8.5zM392 180h8.5v10.5h-8.5zM488 180h8.5v10.5h-8.5zM392 190h8.5v10.5h-8.5zM40 200h8.5v10.5h-8.5zM392 200h8.5v10.5h-8.5zM176 210h8.5v10.5h-8.5zM392 210h8.5v10.5h-8.5zM392 220h8.5v10.5h-8.5zM472 220h8.5v10.5h-8.5zM48 230h8.5v10.5h-8.5zM472 250h8.5v10.5h-8.5zM336 260h16.5v10.5h-16.5zM384 260h8.5v10.5h-8.5zM184 270h8.5v10.5h-8.5zM328 270h8.5v10.5h-8.5zM104 280h16.5v10.5h-16.5zM104 290h16.5v10.5h-16.5zM104 300h8.5v10.5h-8.5zM216 320h8.5v10.5h-8.5zM296 330h8.5v10.5h-8.5zM248 340h8.5v10.5h-8.5zM288 340h8.5v10.5h-8.5zM272 350h8.5v10.5h-8.5z"/>
<path fill="#1d1d1d" d="M320 -20h8.5v10.5h-8.5zM320 -10h8.5v10.5h-8.5zM200 40h8.5v10.5h-8.5zM344 70h8.5v10.5h-8.5zM352 80h8.5v10.5h-8.5zM56 160h32.5v10.5h-32.5zM384 160h8.5v10.5h-8.5zM48 170h8.5v10.5h-8.5zM88 170h8.5v10.5h-8.5zM184 170h8.5v10.5h-8.5zM504 170h8.5v10.5h-8.5zM512 180h8.5v10.5h-8.5zM480 200h8.5v10.5h-8.5zM88 220h8.5v10.5h-8.5zM472 230h8.5v10.5h-8.5zM184 240h8.5v10.5h-8.5zM472 240h8.5v10.5h-8.5zM184 250h8.5v10.5h-8.5zM184 260h8.5v10.5h-8.5zM480 270h8.5v10.5h-8.5zM504 280h8.5v10.5h-8.5zM312 310h8.5v10.5h-8.5zM304 320h8.5v10.5h-8.5zM232 330h8.5v10.5h-8.5z"/>
<path fill="#1e1e1e" d="M200 10h8.5v10.5h-8.5zM336 20h8.5v10.5h-8.5zM200 80h8.5v10.5h-8.5zM368 110h8.5v10.5h-8.5zM192 120h8.5v10.5h-8.5zM376 140h8.5v10.5h-8.5zM384 170h8.5v10.5h-8.5zM48 180h8.5v10.5h-8.5zM88 180h8.5v10.5h-8.5zM184 180h8.5v10.5h-8.5zM496 180h8.5v10.5h-8.5zM488 190h8.5v10.5h-8.5zM88 210h8.5v10.5h-8.5zM48 220h8.5v10.5h-8.5zM184 230h8.5v10.5h-8.5zM56 240h8.5v10.5h-8.5zM80 240h8.5v10.5h-8.5zM64 250h16.5v10.5h-16.5zM512 260h8.5v10.5h-8.5zM192 280h8.5v10.5h-8.5zM488 280h8.5v10.5h-8.5zM200 290h8.5v10.5h-8.5zM320 290h8.5v10.5h-8.5zM256 340h8.5v10.5h-8.5z"/>
<path fill="#1f1f1f" d="M200 30h8.5v10.5h-8.5zM336 30h8.5v10.5h-8.5zM376 150h8.5v10.5h-8.5zM56 170h8.5v10.5h-8.5zM72 170h16.5v10.5h-16.5zM504 180h8.5v10.5h-8.5zM88 190h8.5v10.5h-8.5zM184 190h8.5v10.5h-8.5zM512 190h8.5v10.5h-8.5zM88 200h8.5v10.5h-8.5zM184 200h8.5v10.5h-8.5zM184 210h8.5v10.5h-8.5zM184 220h8.5v10.5h-8.5zM352 260h8.5v10.5h-8.5zM208 300h8.5v10.5h-8.5zM240 330h8.5v10.5h-8.5zM280 340h8.5v10.5h-8.5z"/>
<path fill="#202020" d="M328 10h8.5v10.5h-8.5zM200 20h8.5v10.5h-8.5zM336 40h8.5v10.5h-8.5zM336 50h8.5v10.5h-8.5zM368 120h8.5v10.5h-8.5zM192 130h8.5v10.5h-8.5zM376 160h8.5v10.5h-8.5zM64 170h8.5v10.5h-8.5zM80 180h8.5v10.5h-8.5zM384 180h8.5v10.5h-8.5zM48 190h8.5v10.5h-8.5zM48 200h8.5v10.5h-8.5zM48 210h8.5v10.5h-8.5zM480 210h8.5v10.5h-8.5zM80 230h8.5v10.5h-8.5zM336 250h8.5v10.5h-8.5zM384 250h8.5v10.5h-8.5zM328 260h8.5v10.5h-8.5zM376 260h8.5v10.5h-8.5zM480 260h8.5v10.5h-8.5zM192 270h8.5v10.5h-8.5zM496 280h8.5v10.5h-8.5zM224 320h8.5v10.5h-8.5zM296 320h8.5v10.5h-8.5zM288 330h8.5v10.5h-8.5zM264 340h16.5v10.5h-16.5z"/>
<path fill="#212121" d="M208 -20h8.5v10.5h-8.5zM208 -10h8.5v10.5h-8.5zM320 0h8.5v10.5h-8.5zM336 60h8.5v10.5h-8.5zM344 80h8.5v10.5h-8.5zM200 90h8.5v10.5h-8.5zM360 100h8.5v10.5h-8.5zM376 170h8.5v10.5h-8.5zM56 180h8.5v10.5h-8.5zM384 190h8.5v10.5h-8.5zM496 190h16.5v10.5h-16.5zM488 200h8.5v10.5h-8.5zM512 200h8.5v10.5h-8.5zM56 230h8.5v10.5h-8.5zM64 240h16.5v10.5h-16.5zM192 250h8.5v10.5h-8.5zM344 250h8.5v10.5h-8.5zM512 250h8.5v10.5h-8.5zM192 260h8.5v10.5h-8.5zM360 260h8.5v10.5h-8.5zM200 280h8.5v10.5h-8.5zM320 280h8.5v10.5h-8.5zM312 300h8.5v10.5h-8.5zM216 310h8.5v10.5h-8.5zM304 310h8.5v10.5h-8.5zM248 330h8.5v10.5h-8.5z"/>
<path fill="#222222" d="M352 90h8.5v10.5h-8.5zM368 130h8.5v10.5h-8.5zM192 140h8.5v10.5h-8.5zM72 180h8.5v10.5h-8.5zM80 190h8.5v10.5h-8.5zM384 200h8.5v10.5h-8.5zM80 220h8.5v10.5h-8.5zM480 220h8.5v10.5h-8.5zM192 240h8.5v10.5h-8.5zM384 240h8.5v10.5h-8.5zM368 260h8.5v10.5h-8.5zM488 270h8.5v10.5h-8.5zM504 270h8.5v10.5h-8.5z"/>
<path fill="#232323" d="M328 20h8.5v10.5h-8.5zM336 70h8.5v10.5h-8.5zM368 140h8.5v10.5h-8.5zM192 150h8.5v10.5h-8.5zM368 150h8.5v10.5h-8.5zM368 160h8.5v10.5h-8.5zM64 180h8.5v10.5h-8.5zM376 180h8.5v10.5h-8.5zM80 200h8.5v10.5h-8.5zM384 210h8.5v10.5h-8.5zM512 210h8.5v10.5h-8.5zM56 220h8.5v10.5h-8.5zM192 220h8.5v10.5h-8.5zM384 220h8.5v10.5h-8.5zM192 230h8.5v10.5h-8.5zM384 230h8.5v10.5h-8.5zM512 240h8.5v10.5h-8.5zM480 250h8.5v10.5h-8.5zM232 320h8.5v10.5h-8.5zM280 330h8.5v10.5h-8.5z"/>
<path fill="#242424" d="M208 0h8.5v10.5h-8.5zM200 100h8.5v10.5h-8.5zM192 160h8.5v10.5h-8.5zM192 170h8.5v10.5h-8.5zM368 170h8.5v10.5h-8.5zM192 180h8.5v10.5h-8.5zM56 190h8.5v10.5h-8.5zM192 190h8.5v10.5h-8.5zM376 190h8.5v10.5h-8.5zM192 200h8.5v10.5h-8.5zM496 200h8.5v10.5h-8.5zM80 210h8.5v10.5h-8.5zM192 210h8.5v10.5h-8.5zM512 220h8.5v10.5h-8.5zM64 230h16.5v10.5h-16.5zM480 230h8.5v10.5h-8.5zM512 230h8.5v10.5h-8.5zM480 240h8.5v10.5h-8.5zM328 250h8.5v10.5h-8.5zM352 250h8.5v10.5h-8.5zM200 270h8.5v10.5h-8.5zM320 270h8.5v10.5h-8.5zM208 290h8.5v10.5h-8.5zM256 330h8.5v10.5h-8.5z"/>
<path fill="#252525" d="M312 -20h8.5v10.5h-8.5zM312 -10h8.5v10.5h-8.5zM328 30h8.5v10.5h-8.5zM360 110h8.5v10.5h-8.5zM368 180h8.5v10.5h-8.5zM64 190h16.5v10.5h-16.5zM56 200h8.5v10.5h-8.5zM504 200h8.5v10.5h-8.5zM56 210h8.5v10.5h-8.5zM488 210h8.5v10.5h-8.5zM336 240h8.5v10.5h-8.5zM376 250h8.5v10.5h-8.5zM496 270h8.5v10.5h-8.5zM288 320h8.5v10.5h-8.5z"/>
<path fill="#262626" d="M320 10h8.5v10.5h-8.5zM328 40h8.5v10.5h-8.5zM328 50h8.5v10.5h-8.5zM336 80h8.5v10.5h-8.5zM344 90h8.5v10.5h-8.5zM352 100h8.5v10.5h-8.5zM376 200h8.5v10.5h-8.5zM72 220h8.5v10.5h-8.5zM344 240h8.5v10.5h-8.5zM200 260h8.5v10.5h-8.5zM488 260h8.5v10.5h-8.5zM504 260h8.5v10.5h-8.5zM312 290h8.5v10.5h-8.5zM216 300h8.5v10.5h-8.5zM224 310h8.5v10.5h-8.5zM296 310h8.5v10.5h-8.5zM240 320h8.5v10.5h-8.5zM264 330h16.5v10.5h-16.5z"/>
<path fill="#272727" d="M328 60h8.5v10.5h-8.5zM200 110h8.5v10.5h-8.5zM360 120h8.5v10.5h-8.5zM360 150h8.5v10.5h-8.5zM360 160h8.5v10.5h-8.5zM360 170h8.5v10.5h-8.5zM368 190h8.5v10.5h-8.5zM64 200h16.5v10.5h-16.5zM72 210h8.5v10.5h-8.5zM64 220h8.5v10.5h-8.5zM200 250h8.5v10.5h-8.5zM360 250h8.5v10.5h-8.5zM304 300h8.5v10.5h-8.5z"/>
<path fill="#282828" d="M312 0h8.5v10.5h-8.5zM208 50h8.5v10.5h-8.5zM208 60h8.5v10.5h-8.5zM360 130h8.5v10.5h-8.5zM360 140h8.5v10.5h-8.5zM360 180h8.5v10.5h-8.5zM64 210h8.5v10.5h-8.5zM376 210h8.5v10.5h-8.5zM496 210h16.5v10.5h-16.5zM488 220h8.5v10.5h-8.5zM200 240h8.5v10.5h-8.5zM376 240h8.5v10.5h-8.5zM368 250h8.5v10.5h-8.5zM320 260h8.5v10.5h-8.5zM208 280h8.5v10.5h-8.5z"/>
<path fill="#292929" d="M216 -20h8.5v10.5h-8.5zM216 -10h8.5v10.5h-8.5zM208 10h8.5v10.5h-8.5zM320 20h8.5v10.5h-8.5zM208 40h8.5v10.5h-8.5zM328 70h8.5v10.5h-8.5zM336 90h8.5v10.5h-8.5zM344 100h8.5v10.5h-8.5zM368 200h8.5v10.5h-8.5zM200 220h8.5v10.5h-8.5zM376 220h8.5v10.5h-8.5zM200 230h8.5v10.5h-8.5zM376 230h8.5v10.5h-8.5zM328 240h8.5v10.5h-8.5zM352 240h8.5v10.5h-8.5zM488 250h8.5v10.5h-8.5zM496 260h8.5v10.5h-8.5zM248 320h8.5v10.5h-8.5z"/>
<path fill="#2a2a2a" d="M208 70h8.5v10.5h-8.5zM352 110h8.5v10.5h-8.5zM200 120h8.5v10.5h-8.5zM360 190h8.5v10.5h-8.5zM200 210h8.5v10.5h-8.5zM504 220h8.5v10.5h-8.5zM344 230h8.5v10.5h-8.5zM488 230h8.5v10.5h-8.5zM504 250h8.5v10.5h-8.5zM312 280h8.5v10.5h-8.5zM280 320h8.5v10.5h-8.5z"/>
<path fill="#2b2b2b" d="M208 20h8.5v10.5h-8.5zM208 30h8.5v10.5h-8.5zM320 30h8.5v10.5h-8.5zM328 80h8.5v10.5h-8.5zM352 120h8.5v10.5h-8.5zM352 150h8.5v10.5h-8.5zM352 160h8.5v10.5h-8.5zM352 170h8.5v10.5h-8.5zM200 200h8.5v10.5h-8.5zM360 200h8.5v10.5h-8.5zM368 210h8.5v10.5h-8.5zM496 220h8.5v10.5h-8.5zM336 230h8.5v10.5h-8.5zM360 240h8.5v10.5h-8.5zM488 240h8.5v10.5h-8.5zM208 270h8.5v10.5h-8.5zM232 310h8.5v10.5h-8.5z"/>
<path fill="#2c2c2c" d="M320 40h8.5v10.5h-8.5zM336 100h8.5v10.5h-8.5zM344 110h8.5v10.5h-8.5zM200 130h8.5v10.5h-8.5zM352 130h8.5v10.5h-8.5zM352 140h8.5v10.5h-8.5zM200 180h8.5v10.5h-8.5zM352 180h8.5v10.5h-8.5zM200 190h8.5v10.5h-8.5zM352 230h8.5v10.5h-8.5zM504 230h8.5v10.5h-8.5zM368 240h8.5v10.5h-8.5zM504 240h8.5v10.5h-8.5zM320 250h8.5v10.5h-8.5zM216 290h8.5v10.5h-8.5zM288 310h8.5v10.5h-8.5zM256 320h8.5v10.5h-8.5z"/>
<path fill="#2d2d2d" d="M216 0h8.5v10.5h-8.5zM320 50h8.5v10.5h-8.5zM320 60h8.5v10.5h-8.5zM208 80h8.5v10.5h-8.5zM328 90h8.5v10.5h-8.5zM200 140h8.5v10.5h-8.5zM200 160h8.5v10.5h-8.5zM200 170h8.5v10.5h-8.5zM352 190h8.5v10.5h-8.5zM360 210h8.5v10.5h-8.5zM368 220h8.5v10.5h-8.5zM368 230h8.5v10.5h-8.5zM496 250h8.5v10.5h-8.5zM208 260h8.5v10.5h-8.5zM296 300h8.5v10.5h-8.5zM272 320h8.5v10.5h-8.5z"/>
<path fill="#2e2e2e" d="M312 10h8.5v10.5h-8.5zM336 110h8.5v10.5h-8.5zM344 120h8.5v10.5h-8.5zM200 150h8.5v10.5h-8.5zM352 200h8.5v10.5h-8.5zM352 210h8.5v10.5h-8.5zM344 220h24.5v10.5h-24.5zM360 230h8.5v10.5h-8.5zM496 230h8.5v10.5h-8.5zM496 240h8.5v10.5h-8.5zM304 290h8.5v10.5h-8.5zM224 300h8.5v10.5h-8.5zM264 320h8.5v10.5h-8.5z"/>
<path fill="#2f2f2f" d="M320 70h8.5v10.5h-8.5zM328 100h8.5v10.5h-8.5zM344 130h8.5v10.5h-8.5zM344 140h8.5v10.5h-8.5zM344 150h8.5v10.5h-8.5zM328 230h8.5v10.5h-8.5zM208 250h8.5v10.5h-8.5zM312 270h8.5v10.5h-8.5zM240 310h8.5v10.5h-8.5z"/>
<path fill="#303030" d="M320 80h8.5v10.5h-8.5zM336 120h8.5v10.5h-8.5zM344 160h8.5v10.5h-8.5zM344 170h8.5v10.5h-8.5zM344 210h8.5v10.5h-8.5zM336 220h8.5v10.5h-8.5zM208 240h8.5v10.5h-8.5z"/>
<path fill="#313131" d="M208 90h8.5v10.5h-8.5zM328 110h8.5v10.5h-8.5zM336 130h8.5v10.5h-8.5zM344 180h8.5v10.5h-8.5zM344 200h8.5v10.5h-8.5zM208 230h8.5v10.5h-8.5zM320 240h8.5v10.5h-8.5zM216 280h8.5v10.5h-8.5z"/>
<path fill="#323232" d="M304 -20h8.5v10.5h-8.5zM304 -10h8.5v10.5h-8.5zM312 20h8.5v10.5h-8.5zM320 90h8.5v10.5h-8.5zM336 140h8.5v10.5h-8.5zM344 190h8.5v10.5h-8.5zM208 220h8.5v10.5h-8.5zM280 310h8.5v10.5h-8.5z"/>
<path fill="#333333" d="M328 120h8.5v10.5h-8.5zM312 260h8.5v10.5h-8.5zM248 310h8.5v10.5h-8.5z"/>
<path fill="#343434" d="M224 -20h8.5v10.5h-8.5zM224 -10h8.5v10.5h-8.5zM216 10h8.5v10.5h-8.5zM312 30h8.5v10.5h-8.5zM208 100h8.5v10.5h-8.5zM320 100h8.5v10.5h-8.5zM336 150h8.5v10.5h-8.5zM208 210h8.5v10.5h-8.5zM336 210h8.5v10.5h-8.5zM304 280h8.5v10.5h-8.5zM288 300h8.5v10.5h-8.5z"/>
<path fill="#353535" d="M312 40h8.5v10.5h-8.5zM312 50h8.5v10.5h-8.5zM328 130h8.5v10.5h-8.5zM208 200h8.5v10.5h-8.5zM328 220h8.5v10.5h-8.5zM296 290h8.5v10.5h-8.5zM232 300h8.5v10.5h-8.5z"/>
<path fill="#363636" d="M304 0h8.5v10.5h-8.5zM312 60h8.5v10.5h-8.5zM312 70h8.5v10.5h-8.5zM320 110h8.5v10.5h-8.5zM336 160h8.5v10.5h-8.5zM208 190h8.5v10.5h-8.5zM216 270h8.5v10.5h-8.5zM224 290h8.5v10.5h-8.5zM272 310h8.5v10.5h-8.5z"/>
<path fill="#373737" d="M208 110h8.5v10.5h-8.5zM208 180h8.5v10.5h-8.5zM336 200h8.5v10.5h-8.5zM256 310h8.5v10.5h-8.5z"/>
<path fill="#383838" d="M216 20h8.5v10.5h-8.5zM216 40h8.5v10.5h-8.5zM216 50h8.5v10.5h-8.5zM312 80h8.5v10.5h-8.5zM328 140h8.5v10.5h-8.5zM208 160h8.5v10.5h-8.5zM208 170h8.5v10.5h-8.5zM336 170h8.5v10.5h-8.5zM320 230h8.5v10.5h-8.5zM312 250h8.5v10.5h-8.5zM264 310h8.5v10.5h-8.5z"/>
<path fill="#393939" d="M224 0h8.5v10.5h-8.5zM216 30h8.5v10.5h-8.5zM216 60h8.5v10.5h-8.5zM208 120h8.5v10.5h-8.5zM320 120h8.5v10.5h-8.5zM208 150h8.5v10.5h-8.5zM336 180h8.5v10.5h-8.5zM336 190h8.5v10.5h-8.5zM216 260h8.5v10.5h-8.5z"/>
<path fill="#3a3a3a" d="M312 90h8.5v10.5h-8.5zM208 130h8.5v10.5h-8.5zM208 140h8.5v10.5h-8.5zM304 270h8.5v10.5h-8.5z"/>
<path fill="#3b3b3b" d="M328 210h8.5v10.5h-8.5zM240 300h8.5v10.5h-8.5zM280 300h8.5v10.5h-8.5z"/>
<path fill="#3c3c3c" d="M216 70h8.5v10.5h-8.5zM312 100h8.5v10.5h-8.5zM320 130h8.5v10.5h-8.5zM328 150h8.5v10.5h-8.5zM216 250h8.5v10.5h-8.5z"/>
<path fill="#3d3d3d" d="M304 10h8.5v10.5h-8.5zM312 240h8.5v10.5h-8.5zM296 280h8.5v10.5h-8.5zM288 290h8.5v10.5h-8.5z"/>
<path fill="#3e3e3e" d="M320 220h8.5v10.5h-8.5zM216 240h8.5v10.5h-8.5zM224 280h8.5v10.5h-8.5z"/>
<path fill="#3f3f3f" d="M312 110h8.5v10.5h-8.5zM328 160h8.5v10.5h-8.5zM328 200h8.5v10.5h-8.5zM216 230h8.5v10.5h-8.5z"/>
<path fill="#404040" d="M216 80h8.5v10.5h-8.5zM304 260h8.5v10.5h-8.5zM232 290h8.5v10.5h-8.5zM248 300h8.5v10.5h-8.5z"/>
<path fill="#414141" d="M320 140h8.5v10.5h-8.5zM328 170h8.5v10.5h-8.5zM216 220h8.5v10.5h-8.5z"/>
<path fill="#424242" d="M304 20h8.5v10.5h-8.5zM312 120h8.5v10.5h-8.5zM328 190h8.5v10.5h-8.5zM272 300h8.5v10.5h-8.5z"/>
<path fill="#434343" d="M224 10h8.5v10.5h-8.5zM328 180h8.5v10.5h-8.5zM216 210h8.5v10.5h-8.5z"/>
<path fill="#444444" d="M232 -20h8.5v10.5h-8.5zM232 -10h8.5v10.5h-8.5zM216 90h8.5v10.5h-8.5zM216 200h8.5v10.5h-8.5zM312 230h8.5v10.5h-8.5zM256 300h8.5v10.5h-8.5z"/>
<path fill="#454545" d="M304 30h8.5v10.5h-8.5zM304 40h8.5v10.5h-8.5zM304 50h8.5v10.5h-8.5zM304 60h8.5v10.5h-8.5zM304 70h8.5v10.5h-8.5zM320 150h8.5v10.5h-8.5zM216 190h8.5v10.5h-8.5zM320 210h8.5v10.5h-8.5zM224 270h8.5v10.5h-8.5zM296 270h8.5v10.5h-8.5zM264 300h8.5v10.5h-8.5z"/>
<path fill="#464646" d="M296 -20h8.5v10.5h-8.5zM296 -10h8.5v10.5h-8.5zM304 80h8.5v10.5h-8.5zM216 160h8.5v10.5h-8.5zM216 170h8.5v10.5h-8.5zM216 180h8.5v10.5h-8.5zM304 250h8.5v10.5h-8.5zM280 290h8.5v10.5h-8.5z"/>
<path fill="#474747" d="M216 100h8.5v10.5h-8.5zM312 130h8.5v10.5h-8.5zM216 150h8.5v10.5h-8.5zM288 280h8.5v10.5h-8.5z"/>
<path fill="#484848" d="M304 90h8.5v10.5h-8.5zM216 140h8.5v10.5h-8.5z"/>
<path fill="#494949" d="M224 20h8.5v10.5h-8.5zM216 110h8.5v10.5h-8.5zM216 130h8.5v10.5h-8.5zM240 290h8.5v10.5h-8.5z"/>
<path fill="#4a4a4a" d="M304 100h8.5v10.5h-8.5zM216 120h8.5v10.5h-8.5zM320 160h8.5v10.5h-8.5zM320 200h8.5v10.5h-8.5zM224 260h8.5v10.5h-8.5z"/>
<path fill="#4b4b4b" d="M312 220h8.5v10.5h-8.5zM232 280h8.5v10.5h-8.5z"/>
<path fill="#4c4c4c" d="M232 0h8.5v10.5h-8.5zM224 30h8.5v10.5h-8.5zM304 240h8.5v10.5h-8.5z"/>
<path fill="#4d4d4d" d="M296 0h8.5v10.5h-8.5zM224 40h8.5v10.5h-8.5zM224 50h8.5v10.5h-8.5zM312 140h8.5v10.5h-8.5zM320 170h8.5v10.5h-8.5zM320 190h8.5v10.5h-8.5zM296 260h8.5v10.5h-8.5z"/>
<path fill="#4e4e4e" d="M304 110h8.5v10.5h-8.5zM320 180h8.5v10.5h-8.5zM224 250h8.5v10.5h-8.5zM272 290h8.5v10.5h-8.5z"/>
<path fill="#4f4f4f" d="M224 60h8.5v10.5h-8.5zM248 290h8.5v10.5h-8.5z"/>
<path fill="#515151" d="M312 210h8.5v10.5h-8.5zM224 240h8.5v10.5h-8.5zM288 270h8.5v10.5h-8.5zM280 280h8.5v10.5h-8.5z"/>
<path fill="#525252" d="M224 70h8.5v10.5h-8.5zM312 150h8.5v10.5h-8.5z"/>
<path fill="#535353" d="M304 120h8.5v10.5h-8.5zM256 290h16.5v10.5h-16.5z"/>
<path fill="#545454" d="M224 230h8.5v10.5h-8.5zM304 230h8.5v10.5h-8.5z"/>
<path fill="#555555" d="M296 250h8.5v10.5h-8.5zM232 270h8.5v10.5h-8.5z"/>
<path fill="#565656" d="M224 80h8.5v10.5h-8.5z"/>
<path fill="#575757" d="M296 10h8.5v10.5h-8.5zM312 160h8.5v10.5h-8.5zM312 200h8.5v10.5h-8.5zM224 220h8.5v10.5h-8.5zM240 280h8.5v10.5h-8.5z"/>
<path fill="#595959" d="M232 10h8.5v10.5h-8.5zM304 130h8.5v10.5h-8.5zM224 210h8.5v10.5h-8.5z"/>
<path fill="#5a5a5a" d="M224 90h8.5v10.5h-8.5zM224 150h8.5v10.5h-8.5zM224 160h8.5v10.5h-8.5z"/>
<path fill="#5b5b5b" d="M240 -20h8.5v10.5h-8.5zM240 -10h8.5v10.5h-8.5zM224 140h8.5v10.5h-8.5zM224 170h8.5v10.5h-8.5zM312 170h8.5v10.5h-8.5zM312 190h8.5v10.5h-8.5zM224 200h8.5v10.5h-8.5zM288 260h8.5v10.5h-8.5zM272 280h8.5v10.5h-8.5z"/>
<path fill="#5c5c5c" d="M224 130h8.5v10.5h-8.5zM224 180h8.5v10.5h-8.5zM312 180h8.5v10.5h-8.5zM224 190h8.5v10.5h-8.5zM304 220h8.5v10.5h-8.5z"/>
<path fill="#5d5d5d" d="M224 100h8.5v10.5h-8.5zM280 270h8.5v10.5h-8.5z"/>
<path fill="#5e5e5e" d="M296 20h8.5v10.5h-8.5zM224 110h8.5v10.5h-8.5zM224 120h8.5v10.5h-8.5zM304 140h8.5v10.5h-8.5zM296 240h8.5v10.5h-8.5zM232 260h8.5v10.5h-8.5z"/>
<path fill="#5f5f5f" d="M296 70h8.5v10.5h-8.5zM296 80h8.5v10.5h-8.5zM248 280h8.5v10.5h-8.5z"/>
<path fill="#606060" d="M296 60h8.5v10.5h-8.5zM296 90h8.5v10.5h-8.5z"/>
<path fill="#616161" d="M288 -20h8.5v10.5h-8.5zM288 -10h8.5v10.5h-8.5z"/>
<path fill="#626262" d="M232 20h8.5v10.5h-8.5zM296 30h8.5v10.5h-8.5zM296 40h8.5v10.5h-8.5zM296 50h8.5v10.5h-8.5zM264 280h8.5v10.5h-8.5z"/>
<path fill="#636363" d="M296 100h8.5v10.5h-8.5zM304 210h8.5v10.5h-8.5z"/>
<path fill="#646464" d="M304 150h8.5v10.5h-8.5zM240 270h8.5v10.5h-8.5zM256 280h8.5v10.5h-8.5z"/>
<path fill="#656565" d="M240 0h8.5v10.5h-8.5zM232 250h8.5v10.5h-8.5z"/>
<path fill="#666666" d="M288 250h8.5v10.5h-8.5z"/>
<path fill="#676767" d="M232 30h8.5v10.5h-8.5zM296 110h8.5v10.5h-8.5z"/>
<path fill="#686868" d="M296 230h8.5v10.5h-8.5z"/>
<path fill="#696969" d="M232 40h8.5v10.5h-8.5zM304 160h8.5v10.5h-8.5zM304 200h8.5v10.5h-8.5zM272 270h8.5v10.5h-8.5z"/>
<path fill="#6a6a6a" d="M232 50h8.5v10.5h-8.5zM232 240h8.5v10.5h-8.5zM280 260h8.5v10.5h-8.5z"/>
<path fill="#6b6b6b" d="M288 0h8.5v10.5h-8.5zM232 60h8.5v10.5h-8.5z"/>
<path fill="#6c6c6c" d="M296 120h8.5v10.5h-8.5zM304 170h8.5v10.5h-8.5z"/>
<path fill="#6d6d6d" d="M304 190h8.5v10.5h-8.5z"/>
<path fill="#6e6e6e" d="M232 70h8.5v10.5h-8.5zM304 180h8.5v10.5h-8.5z"/>
<path fill="#6f6f6f" d="M248 270h8.5v10.5h-8.5z"/>
<path fill="#707070" d="M232 230h8.5v10.5h-8.5zM240 260h8.5v10.5h-8.5z"/>
<path fill="#717171" d="M232 80h8.5v10.5h-8.5z"/>
<path fill="#727272" d="M296 220h8.5v10.5h-8.5zM288 240h8.5v10.5h-8.5zM264 270h8.5v10.5h-8.5z"/>
<path fill="#737373" d="M296 130h8.5v10.5h-8.5z"/>
<path fill="#747474" d="M232 220h8.5v10.5h-8.5zM256 270h8.5v10.5h-8.5z"/>
<path fill="#757575" d="M232 90h8.5v10.5h-8.5z"/>
<path fill="#767676" d="M248 -20h8.5v10.5h-8.5zM248 -10h8.5v10.5h-8.5zM232 140h8.5v10.5h-8.5zM232 150h8.5v10.5h-8.5z"/>
<path fill="#777777" d="M240 10h8.5v10.5h-8.5zM232 100h8.5v10.5h-8.5zM232 120h8.5v10.5h-8.5zM232 130h8.5v10.5h-8.5zM232 160h8.5v10.5h-8.5z"/>
<path fill="#787878" d="M232 110h8.5v10.5h-8.5zM232 210h8.5v10.5h-8.5zM280 250h8.5v10.5h-8.5z"/>
<path fill="#797979" d="M232 170h8.5v10.5h-8.5zM272 260h8.5v10.5h-8.5z"/>
<path fill="#7a7a7a" d="M296 140h8.5v10.5h-8.5z"/>
<path fill="#7b7b7b" d="M288 10h8.5v10.5h-8.5zM232 180h8.5v10.5h-8.5zM232 200h8.5v10.5h-8.5zM296 210h8.5v10.5h-8.5zM240 250h8.5v10.5h-8.5z"/>
<path fill="#7c7c7c" d="M232 190h8.5v10.5h-8.5z"/>
<path fill="#7d7d7d" d="M280 -20h8.5v10.5h-8.5zM280 -10h8.5v10.5h-8.5z"/>
<path fill="#7e7e7e" d="M248 260h8.5v10.5h-8.5z"/>
<path fill="#7f7f7f" d="M296 150h8.5v10.5h-8.5z"/>
<path fill="#808080" d="M288 230h8.5v10.5h-8.5z"/>
<path fill="#838383" d="M248 0h8.5v10.5h-8.5zM240 20h8.5v10.5h-8.5zM288 90h8.5v10.5h-8.5zM296 200h8.5v10.5h-8.5zM264 260h8.5v10.5h-8.5z"/>
<path fill="#848484" d="M288 80h8.5v10.5h-8.5zM296 160h8.5v10.5h-8.5zM240 240h8.5v10.5h-8.5z"/>
<path fill="#858585" d="M288 70h8.5v10.5h-8.5zM288 100h8.5v10.5h-8.5zM256 260h8.5v10.5h-8.5z"/>
<path fill="#868686" d="M288 20h8.5v10.5h-8.5z"/>
<path fill="#878787" d="M296 170h8.5v10.5h-8.5zM296 190h8.5v10.5h-8.5z"/>
<path fill="#888888" d="M288 60h8.5v10.5h-8.5zM296 180h8.5v10.5h-8.5zM280 240h8.5v10.5h-8.5z"/>
<path fill="#898989" d="M288 110h8.5v10.5h-8.5zM272 250h8.5v10.5h-8.5z"/>
<path fill="#8a8a8a" d="M280 0h8.5v10.5h-8.5zM240 30h8.5v10.5h-8.5zM288 50h8.5v10.5h-8.5z"/>
<path fill="#8b8b8b" d="M288 30h8.5v10.5h-8.5z"/>
<path fill="#8c8c8c" d="M256 -20h8.5v10.5h-8.5zM256 -10h8.5v10.5h-8.5zM240 40h8.5v10.5h-8.5zM288 40h8.5v10.5h-8.5zM248 250h8.5v10.5h-8.5z"/>
<path fill="#8d8d8d" d="M240 50h8.5v10.5h-8.5zM240 60h8.5v10.5h-8.5zM240 230h8.5v10.5h-8.5z"/>
<path fill="#8e8e8e" d="M240 70h8.5v10.5h-8.5zM288 220h8.5v10.5h-8.5z"/>
<path fill="#8f8f8f" d="M288 120h8.5v10.5h-8.5z"/>
<path fill="#909090" d="M240 80h8.5v10.5h-8.5z"/>
<path fill="#919191" d="M272 -20h8.5v10.5h-8.5zM272 -10h8.5v10.5h-8.5z"/>
<path fill="#929292" d="M240 90h8.5v10.5h-8.5z"/>
<path fill="#949494" d="M240 100h8.5v10.5h-8.5zM264 250h8.5v10.5h-8.5z"/>
<path fill="#959595" d="M240 110h8.5v10.5h-8.5zM240 220h8.5v10.5h-8.5z"/>
<path fill="#969696" d="M256 250h8.5v10.5h-8.5z"/>
<path fill="#979797" d="M264 -20h8.5v10.5h-8.5zM264 -10h8.5v10.5h-8.5zM240 120h8.5v10.5h-8.5zM288 130h8.5v10.5h-8.5z"/>
<path fill="#989898" d="M240 130h8.5v10.5h-8.5z"/>
<path fill="#999999" d="M248 10h8.5v10.5h-8.5z"/>
<path fill="#9a9a9a" d="M240 140h8.5v10.5h-8.5zM280 230h8.5v10.5h-8.5zM248 240h8.5v10.5h-8.5z"/>
<path fill="#9b9b9b" d="M288 210h8.5v10.5h-8.5z"/>
<path fill="#9c9c9c" d="M256 0h8.5v10.5h-8.5zM240 150h8.5v10.5h-8.5zM240 210h8.5v10.5h-8.5zM272 240h8.5v10.5h-8.5z"/>
<path fill="#9f9f9f" d="M288 140h8.5v10.5h-8.5zM240 160h8.5v10.5h-8.5z"/>
<path fill="#a0a0a0" d="M280 10h8.5v10.5h-8.5z"/>
<path fill="#a1a1a1" d="M272 0h8.5v10.5h-8.5zM240 170h8.5v10.5h-8.5zM240 200h8.5v10.5h-8.5z"/>
<path fill="#a3a3a3" d="M240 180h8.5v10.5h-8.5zM240 190h8.5v10.5h-8.5z"/>
<path fill="#a5a5a5" d="M288 200h8.5v10.5h-8.5z"/>
<path fill="#a6a6a6" d="M288 150h8.5v10.5h-8.5z"/>
<path fill="#a7a7a7" d="M264 0h8.5v10.5h-8.5zM256 240h8.5v10.5h-8.5z"/>
<path fill="#a8a8a8" d="M248 20h8.5v10.5h-8.5zM280 90h8.5v10.5h-8.5zM280 100h8.5v10.5h-8.5zM248 230h8.5v10.5h-8.5zM264 240h8.5v10.5h-8.5z"/>
<path fill="#aaaaaa" d="M280 80h8.5v10.5h-8.5z"/>
<path fill="#ababab" d="M288 160h8.5v10.5h-8.5zM288 190h8.5v10.5h-8.5z"/>
<path fill="#adadad" d="M280 70h8.5v10.5h-8.5zM280 110h8.5v10.5h-8.5zM280 220h8.5v10.5h-8.5z"/>
<path fill="#aeaeae" d="M248 70h8.5v10.5h-8.5zM248 80h8.5v10.5h-8.5zM248 90h8.5v10.5h-8.5zM288 170h8.5v10.5h-8.5zM288 180h8.5v10.5h-8.5z"/>
<path fill="#afafaf" d="M280 20h8.5v10.5h-8.5z"/>
<path fill="#b0b0b0" d="M248 60h8.5v10.5h-8.5zM248 100h8.5v10.5h-8.5z"/>
<path fill="#b1b1b1" d="M248 30h8.5v10.5h-8.5zM272 230h8.5v10.5h-8.5z"/>
<path fill="#b2b2b2" d="M248 50h8.5v10.5h-8.5zM280 60h8.5v10.5h-8.5z"/>
<path fill="#b3b3b3" d="M248 40h8.5v10.5h-8.5zM248 110h8.5v10.5h-8.5z"/>
<path fill="#b4b4b4" d="M280 120h8.5v10.5h-8.5zM248 220h8.5v10.5h-8.5z"/>
<path fill="#b6b6b6" d="M256 10h8.5v10.5h-8.5zM280 50h8.5v10.5h-8.5z"/>
<path fill="#b7b7b7" d="M280 30h8.5v10.5h-8.5z"/>
<path fill="#b8b8b8" d="M248 120h8.5v10.5h-8.5z"/>
<path fill="#b9b9b9" d="M280 40h8.5v10.5h-8.5zM256 230h8.5v10.5h-8.5z"/>
<path fill="#bbbbbb" d="M272 10h8.5v10.5h-8.5z"/>
<path fill="#bdbdbd" d="M248 130h8.5v10.5h-8.5zM280 210h8.5v10.5h-8.5zM264 230h8.5v10.5h-8.5z"/>
<path fill="#bebebe" d="M280 130h8.5v10.5h-8.5z"/>
<path fill="#c0c0c0" d="M248 210h8.5v10.5h-8.5z"/>
<path fill="#c3c3c3" d="M264 10h8.5v10.5h-8.5zM272 90h8.5v10.5h-8.5zM272 100h8.5v10.5h-8.5zM248 140h8.5v10.5h-8.5z"/>
<path fill="#c4c4c4" d="M256 90h8.5v10.5h-8.5z"/>
<path fill="#c5c5c5" d="M256 80h8.5v10.5h-8.5z"/>
<path fill="#c6c6c6" d="M272 80h8.5v10.5h-8.5zM256 100h8.5v10.5h-8.5zM272 220h8.5v10.5h-8.5z"/>
<path fill="#c8c8c8" d="M256 20h8.5v10.5h-8.5zM256 70h8.5v10.5h-8.5zM272 110h8.5v10.5h-8.5zM248 200h8.5v10.5h-8.5z"/>
<path fill="#c9c9c9" d="M280 140h8.5v10.5h-8.5zM248 150h8.5v10.5h-8.5z"/>
<path fill="#cacaca" d="M272 70h8.5v10.5h-8.5zM256 110h8.5v10.5h-8.5z"/>
<path fill="#cbcbcb" d="M280 200h8.5v10.5h-8.5zM256 220h8.5v10.5h-8.5z"/>
<path fill="#cccccc" d="M256 60h8.5v10.5h-8.5z"/>
<path fill="#cdcdcd" d="M264 90h8.5v10.5h-8.5zM248 160h8.5v10.5h-8.5z"/>
<path fill="#cecece" d="M272 20h8.5v10.5h-8.5zM264 100h8.5v10.5h-8.5zM248 190h8.5v10.5h-8.5z"/>
<path fill="#cfcfcf" d="M264 80h8.5v10.5h-8.5zM248 170h8.5v10.5h-8.5z"/>
<path fill="#d0d0d0" d="M256 50h8.5v10.5h-8.5zM272 60h8.5v10.5h-8.5zM248 180h8.5v10.5h-8.5z"/>
<path fill="#d1d1d1" d="M256 30h8.5v10.5h-8.5zM272 120h8.5v10.5h-8.5z"/>
<path fill="#d2d2d2" d="M256 120h8.5v10.5h-8.5zM264 220h8.5v10.5h-8.5z"/>
<path fill="#d3d3d3" d="M256 40h8.5v10.5h-8.5zM264 70h8.5v10.5h-8.5zM264 110h8.5v10.5h-8.5zM280 150h8.5v10.5h-8.5z"/>
<path fill="#d5d5d5" d="M272 50h8.5v10.5h-8.5zM280 190h8.5v10.5h-8.5z"/>
<path fill="#d7d7d7" d="M264 20h8.5v10.5h-8.5zM272 30h8.5v10.5h-8.5z"/>
<path fill="#d9d9d9" d="M272 40h8.5v10.5h-8.5zM264 60h8.5v10.5h-8.5zM280 160h8.5v10.5h-8.5z"/>
<path fill="#dadada" d="M280 180h8.5v10.5h-8.5zM272 210h8.5v10.5h-8.5z"/>
<path fill="#dbdbdb" d="M280 170h8.5v10.5h-8.5zM256 210h8.5v10.5h-8.5z"/>
<path fill="#dcdcdc" d="M264 120h8.5v10.5h-8.5zM256 130h8.5v10.5h-8.5z"/>
<path fill="#dddddd" d="M272 130h8.5v10.5h-8.5z"/>
<path fill="#dfdfdf" d="M264 50h8.5v10.5h-8.5z"/>
<path fill="#e1e1e1" d="M264 30h8.5v10.5h-8.5z"/>
<path fill="#e2e2e2" d="M264 40h8.5v10.5h-8.5z"/>
<path fill="#e6e6e6" d="M256 140h8.5v10.5h-8.5zM264 210h8.5v10.5h-8.5z"/>
<path fill="#e8e8e8" d="M264 130h8.5v10.5h-8.5z"/>
<path fill="#e9e9e9" d="M256 200h8.5v10.5h-8.5z"/>
<path fill="#ebebeb" d="M272 140h8.5v10.5h-8.5zM272 200h8.5v10.5h-8.5z"/>
<path fill="#efefef" d="M256 150h8.5v10.5h-8.5z"/>
<path fill="#f2f2f2" d="M256 190h8.5v10.5h-8.5z"/>
<path fill="#f6f6f6" d="M264 140h8.5v10.5h-8.5zM272 150h8.5v10.5h-8.5zM256 160h8.5v10.5h-8.5zM264 200h8.5v10.5h-8.5z"/>
<path fill="#f7f7f7" d="M272 190h8.5v10.5h-8.5z"/>
<path fill="#f8f8f8" d="M256 180h8.5v10.5h-8.5z"/>
<path fill="#f9f9f9" d="M256 170h8.5v10.5h-8.5z"/>
<path fill="#fefefe" d="M272 160h8.5v10.5h-8.5zM272 180h8.5v10.5h-8.5z"/>
<path fill="#ffffff" d="M264 150h8.5v10.5h-8.5zM264 160h8.5v10.5h-8.5zM264 170h16.5v10.5h-16.5zM264 180h8.5v10.5h-8.5zM264 190h8.5v10.5h-8.5z"/>
</g></g>
<rect x="851" y="47.81" width="1" height="532.49" fill="#fff"/>
<rect x="1048" y="47.81" width="1" height="532.49" fill="#fff"/>
<path d="M699.76 294H1232.3" stroke="#CD2626" stroke-width="1.5" stroke-dasharray="6 6" stroke-linecap="round" fill="none"/>
<path d="M934.82 580.2V47.81" stroke="#006400" stroke-width="1.5" stroke-dasharray="6 6" stroke-linecap="round" fill="none"/>
<path d="M996.68 580.2V47.81" stroke="#006400" stroke-width="1.5" stroke-dasharray="6 6" stroke-linecap="round" fill="none"/>
<rect class="bx" x="699.76" y="47.81" width="532.54" height="532.49"/>
<path class="ln" d="M750.55 580.3H1180.95M750.55 580.3v6.4M858.15 580.3v6.4M965.75 580.3v6.4M1073.35 580.3v6.4M1180.95 580.3v6.4M699.76 47.81V495.13M699.76 495.13h-6.4M699.76 383.3h-6.4M699.76 271.47h-6.4M699.76 159.64h-6.4M699.76 47.81h-6.4"/>
<text class="ax" transform="translate(750.55 601.9) scale(0.955 1)" text-anchor="middle">-400</text>
<text class="ax" transform="translate(858.15 601.9) scale(0.955 1)" text-anchor="middle">-200</text>
<text class="ax" transform="translate(965.75 601.9) scale(0.955 1)" text-anchor="middle">0</text>
<text class="ax" transform="translate(1073.35 601.9) scale(0.955 1)" text-anchor="middle">200</text>
<text class="ax" transform="translate(1180.95 601.9) scale(0.955 1)" text-anchor="middle">400</text>
<text class="ax" transform="translate(685 495.63) rotate(-90) scale(0.955 1)" text-anchor="middle">80</text>
<text class="ax" transform="translate(685 383.8) rotate(-90) scale(0.955 1)" text-anchor="middle">85</text>
<text class="ax" transform="translate(685 271.97) rotate(-90) scale(0.955 1)" text-anchor="middle">90</text>
<text class="ax" transform="translate(685 160.14) rotate(-90) scale(0.955 1)" text-anchor="middle">95</text>
<text class="ax" transform="translate(685 48.31) rotate(-90) scale(0.955 1)" text-anchor="middle">100</text>
<text class="ttl" x="966.93" y="31.8" text-anchor="middle">Density heat map for the top hits</text>
<text class="lab" x="966.03" y="625.5" text-anchor="middle">Distance to peak summit</text>
<text class="lab" transform="translate(662 314.35) rotate(-90)" text-anchor="middle">Motif score</text>
<path d="M79.60 1200.60C82.17 1200.52 90.27 1200.32 95.00 1200.10C99.73 1199.88 104.33 1199.60 108.00 1199.30C111.67 1199.00 113.83 1198.60 117.00 1198.30C120.17 1198.00 123.67 1197.67 127.00 1197.50C130.33 1197.33 133.67 1197.37 137.00 1197.30C140.33 1197.23 144.00 1197.27 147.00 1197.10C150.00 1196.93 152.67 1196.63 155.00 1196.30C157.33 1195.97 159.00 1195.63 161.00 1195.10C163.00 1194.57 165.00 1193.90 167.00 1193.10C169.00 1192.30 171.00 1191.35 173.00 1190.30C175.00 1189.25 177.00 1188.05 179.00 1186.80C181.00 1185.55 183.00 1184.13 185.00 1182.80C187.00 1181.47 189.00 1180.13 191.00 1178.80C193.00 1177.47 195.00 1176.13 197.00 1174.80C199.00 1173.47 200.83 1172.22 203.00 1170.80C205.17 1169.38 207.17 1168.30 210.00 1166.30C212.83 1164.30 217.17 1161.22 220.00 1158.80C222.83 1156.38 225.00 1154.13 227.00 1151.80C229.00 1149.47 230.50 1147.22 232.00 1144.80C233.50 1142.38 234.67 1140.05 236.00 1137.30C237.33 1134.55 238.67 1131.47 240.00 1128.30C241.33 1125.13 242.67 1121.72 244.00 1118.30C245.33 1114.88 246.67 1111.38 248.00 1107.80C249.33 1104.22 250.67 1100.30 252.00 1096.80C253.33 1093.30 254.67 1089.88 256.00 1086.80C257.33 1083.72 258.50 1081.38 260.00 1078.30C261.50 1075.22 263.33 1071.55 265.00 1068.30C266.67 1065.05 268.33 1061.88 270.00 1058.80C271.67 1055.72 273.33 1052.80 275.00 1049.80C276.67 1046.80 278.50 1043.63 280.00 1040.80C281.50 1037.97 282.67 1035.63 284.00 1032.80C285.33 1029.97 286.83 1026.55 288.00 1023.80C289.17 1021.05 290.00 1019.05 291.00 1016.30C292.00 1013.55 293.00 1010.55 294.00 1007.30C295.00 1004.05 296.00 1000.47 297.00 996.80C298.00 993.13 299.00 989.22 300.00 985.30C301.00 981.38 302.00 977.30 303.00 973.30C304.00 969.30 305.08 964.97 306.00 961.30C306.92 957.63 307.67 954.80 308.50 951.30C309.33 947.80 310.08 944.30 311.00 940.30C311.92 936.30 313.00 931.63 314.00 927.30C315.00 922.97 316.00 918.72 317.00 914.30C318.00 909.88 319.00 905.30 320.00 900.80C321.00 896.30 322.00 891.80 323.00 887.30C324.00 882.80 325.00 878.30 326.00 873.80C327.00 869.30 328.00 864.80 329.00 860.30C330.00 855.80 331.00 851.30 332.00 846.80C333.00 842.30 334.17 836.97 335.00 833.30C335.83 829.63 336.17 829.13 337.00 824.80C337.83 820.47 338.83 813.05 340.00 807.30C341.17 801.55 342.67 795.88 344.00 790.30C345.33 784.72 346.67 779.13 348.00 773.80C349.33 768.47 350.67 763.30 352.00 758.30C353.33 753.30 354.67 748.30 356.00 743.80C357.33 739.30 358.83 734.72 360.00 731.30C361.17 727.88 362.00 725.72 363.00 723.30C364.00 720.88 365.00 718.63 366.00 716.80C367.00 714.97 368.00 713.52 369.00 712.30C370.00 711.08 371.00 710.20 372.00 709.50C373.00 708.80 373.92 708.42 375.00 708.10C376.08 707.78 377.33 707.62 378.50 707.60C379.67 707.58 380.75 707.72 382.00 708.00C383.25 708.28 384.67 708.78 386.00 709.30C387.33 709.82 388.67 710.43 390.00 711.10C391.33 711.77 392.67 712.43 394.00 713.30C395.33 714.17 396.67 715.10 398.00 716.30C399.33 717.50 400.67 718.75 402.00 720.50C403.33 722.25 404.83 724.67 406.00 726.80C407.17 728.93 408.00 730.97 409.00 733.30C410.00 735.63 411.00 738.13 412.00 740.80C413.00 743.47 414.00 746.22 415.00 749.30C416.00 752.38 417.00 755.88 418.00 759.30C419.00 762.72 420.00 766.22 421.00 769.80C422.00 773.38 423.00 777.22 424.00 780.80C425.00 784.38 426.00 787.72 427.00 791.30C428.00 794.88 428.83 798.38 430.00 802.30C431.17 806.22 432.67 810.85 434.00 814.80C435.33 818.75 436.67 822.58 438.00 826.00C439.33 829.42 440.67 832.33 442.00 835.30C443.33 838.27 444.67 841.05 446.00 843.80C447.33 846.55 448.67 849.22 450.00 851.80C451.33 854.38 452.67 856.88 454.00 859.30C455.33 861.72 456.67 864.05 458.00 866.30C459.33 868.55 460.67 870.72 462.00 872.80C463.33 874.88 464.83 877.22 466.00 878.80C467.17 880.38 468.17 881.47 469.00 882.30C469.83 883.13 470.33 883.45 471.00 883.80C471.67 884.15 472.33 884.35 473.00 884.40C473.67 884.45 474.25 884.45 475.00 884.10C475.75 883.75 476.67 883.10 477.50 882.30C478.33 881.50 479.08 880.55 480.00 879.30C480.92 878.05 482.00 876.47 483.00 874.80C484.00 873.13 485.00 871.13 486.00 869.30C487.00 867.47 488.00 865.43 489.00 863.80C490.00 862.17 491.08 860.62 492.00 859.50C492.92 858.38 493.67 857.63 494.50 857.10C495.33 856.57 496.17 856.35 497.00 856.30C497.83 856.25 498.75 856.38 499.50 856.80C500.25 857.22 500.83 857.88 501.50 858.80C502.17 859.72 502.83 860.80 503.50 862.30C504.17 863.80 504.83 865.63 505.50 867.80C506.17 869.97 506.83 872.55 507.50 875.30C508.17 878.05 508.83 881.13 509.50 884.30C510.17 887.47 510.83 890.80 511.50 894.30C512.17 897.80 512.95 901.80 513.50 905.30C514.05 908.80 514.22 910.80 514.80 915.30C515.38 919.80 516.22 926.63 517.00 932.30C517.78 937.97 518.67 943.47 519.50 949.30C520.33 955.13 521.17 961.13 522.00 967.30C522.83 973.47 523.70 979.13 524.50 986.30C525.30 993.47 526.03 1003.30 526.80 1010.30C527.57 1017.30 528.37 1022.13 529.10 1028.30C529.83 1034.47 530.45 1040.97 531.20 1047.30C531.95 1053.63 532.83 1060.13 533.60 1066.30C534.37 1072.47 535.07 1078.47 535.80 1084.30C536.53 1090.13 537.37 1096.13 538.00 1101.30C538.63 1106.47 539.02 1110.97 539.60 1115.30C540.18 1119.63 540.77 1123.13 541.50 1127.30C542.23 1131.47 543.17 1136.13 544.00 1140.30C544.83 1144.47 545.67 1148.63 546.50 1152.30C547.33 1155.97 548.08 1158.97 549.00 1162.30C549.92 1165.63 551.00 1169.30 552.00 1172.30C553.00 1175.30 554.00 1177.97 555.00 1180.30C556.00 1182.63 557.00 1184.47 558.00 1186.30C559.00 1188.13 560.00 1189.88 561.00 1191.30C562.00 1192.72 563.00 1193.83 564.00 1194.80C565.00 1195.77 566.00 1196.47 567.00 1197.10C568.00 1197.73 569.08 1198.20 570.00 1198.60C570.92 1199.00 572.03 1199.17 572.50 1199.50C572.97 1199.83 572.75 1200.42 572.80 1200.60Z" fill="#F5DEB3" stroke="#000" stroke-width="1.1" stroke-linejoin="round"/>
<path d="M340.51 1220.2V687.81" stroke="#CD2626" stroke-width="1.5" stroke-dasharray="6 6" stroke-linecap="round" fill="none"/>
<rect class="bx" x="59.76" y="687.81" width="532.54" height="532.49"/>
<path class="ln" d="M113.15 1220.3H519.15M113.15 1220.3v6.4M194.35 1220.3v6.4M275.55 1220.3v6.4M356.75 1220.3v6.4M437.95 1220.3v6.4M519.15 1220.3v6.4M59.76 714.42V1200.5M59.76 1200.5h-6.4M59.76 1078.98h-6.4M59.76 957.46h-6.4M59.76 835.94h-6.4M59.76 714.42h-6.4"/>
<text class="ax" transform="translate(113.15 1241.9) scale(0.955 1)" text-anchor="middle">75</text>
<text class="ax" transform="translate(194.35 1241.9) scale(0.955 1)" text-anchor="middle">80</text>
<text class="ax" transform="translate(275.55 1241.9) scale(0.955 1)" text-anchor="middle">85</text>
<text class="ax" transform="translate(356.75 1241.9) scale(0.955 1)" text-anchor="middle">90</text>
<text class="ax" transform="translate(437.95 1241.9) scale(0.955 1)" text-anchor="middle">95</text>
<text class="ax" transform="translate(519.15 1241.9) scale(0.955 1)" text-anchor="middle">100</text>
<text class="ax" transform="translate(45 1201) rotate(-90) scale(0.955 1)" text-anchor="middle">0.00</text>
<text class="ax" transform="translate(45 1079.48) rotate(-90) scale(0.955 1)" text-anchor="middle">0.02</text>
<text class="ax" transform="translate(45 957.96) rotate(-90) scale(0.955 1)" text-anchor="middle">0.04</text>
<text class="ax" transform="translate(45 836.44) rotate(-90) scale(0.955 1)" text-anchor="middle">0.06</text>
<text class="ax" transform="translate(45 714.92) rotate(-90) scale(0.955 1)" text-anchor="middle">0.08</text>
<text class="ttl" x="326.93" y="671.8" text-anchor="middle">Motif score threshold: 89.000</text>
<text class="lab" x="326.03" y="1265.5" text-anchor="middle">Motif score</text>
<text class="lab" transform="translate(22 954.35) rotate(-90)" text-anchor="middle">Density</text>
<path d="M719.50 1200.55C720.42 1200.47 723.25 1200.38 725.00 1200.05C726.75 1199.72 728.33 1199.42 730.00 1198.55C731.67 1197.67 733.33 1196.59 735.00 1194.80C736.67 1193.01 738.33 1190.63 740.00 1187.80C741.67 1184.97 743.33 1181.34 745.00 1177.80C746.67 1174.26 748.54 1169.67 750.00 1166.55C751.46 1163.42 752.50 1160.92 753.75 1159.05C755.00 1157.17 756.46 1156.01 757.50 1155.30C758.54 1154.59 758.96 1154.51 760.00 1154.80C761.04 1155.09 762.50 1155.92 763.75 1157.05C765.00 1158.17 766.25 1159.97 767.50 1161.55C768.75 1163.13 770.00 1165.17 771.25 1166.55C772.50 1167.92 773.88 1169.13 775.00 1169.80C776.12 1170.47 776.96 1170.63 778.00 1170.55C779.04 1170.47 780.08 1170.17 781.25 1169.30C782.42 1168.42 783.54 1167.42 785.00 1165.30C786.46 1163.17 788.33 1159.67 790.00 1156.55C791.67 1153.42 793.33 1149.67 795.00 1146.55C796.67 1143.42 798.33 1140.30 800.00 1137.80C801.67 1135.30 803.42 1133.01 805.00 1131.55C806.58 1130.09 808.04 1129.38 809.50 1129.05C810.96 1128.72 812.00 1129.01 813.75 1129.55C815.50 1130.09 817.71 1131.13 820.00 1132.30C822.29 1133.47 825.00 1134.80 827.50 1136.55C830.00 1138.30 832.50 1140.72 835.00 1142.80C837.50 1144.88 840.00 1147.17 842.50 1149.05C845.00 1150.92 847.50 1152.59 850.00 1154.05C852.50 1155.51 855.00 1156.76 857.50 1157.80C860.00 1158.84 862.50 1159.72 865.00 1160.30C867.50 1160.88 870.00 1161.30 872.50 1161.30C875.00 1161.30 877.50 1160.88 880.00 1160.30C882.50 1159.72 885.05 1159.15 887.50 1157.80C889.95 1156.45 892.47 1154.18 894.70 1152.20C896.93 1150.22 899.08 1148.05 900.90 1145.90C902.72 1143.75 904.17 1141.77 905.60 1139.30C907.03 1136.83 908.32 1133.90 909.50 1131.10C910.68 1128.30 911.65 1125.76 912.70 1122.50C913.75 1119.24 914.77 1115.58 915.80 1111.55C916.83 1107.52 917.99 1102.08 918.90 1098.30C919.81 1094.52 920.47 1091.90 921.25 1088.90C922.03 1085.90 922.94 1083.40 923.60 1080.30C924.26 1077.20 924.17 1076.13 925.20 1070.30C926.23 1064.47 928.42 1054.05 929.80 1045.30C931.18 1036.55 932.37 1026.97 933.50 1017.80C934.63 1008.63 935.55 999.05 936.60 990.30C937.65 981.55 938.80 973.63 939.80 965.30C940.80 956.97 941.77 948.63 942.60 940.30C943.43 931.97 944.05 923.63 944.80 915.30C945.55 906.97 946.32 898.63 947.10 890.30C947.88 881.97 948.68 873.63 949.50 865.30C950.32 856.97 951.10 851.13 952.00 840.30C952.90 829.47 954.25 809.05 954.90 800.30C955.55 791.55 955.58 791.97 955.90 787.80C956.22 783.63 956.48 779.47 956.80 775.30C957.12 771.13 957.43 766.97 957.80 762.80C958.17 758.63 958.58 754.20 959.00 750.30C959.42 746.40 959.90 742.52 960.30 739.40C960.70 736.27 961.03 734.17 961.40 731.55C961.77 728.93 962.08 726.31 962.50 723.70C962.92 721.09 963.50 717.85 963.90 715.90C964.30 713.95 964.54 713.17 964.90 712.00C965.26 710.83 965.53 709.65 966.05 708.90C966.57 708.15 967.35 707.50 968.00 707.50C968.65 707.50 969.43 708.15 969.95 708.90C970.47 709.65 970.74 710.83 971.10 712.00C971.46 713.17 971.73 713.95 972.10 715.90C972.47 717.85 972.92 721.09 973.30 723.70C973.68 726.31 974.05 728.93 974.40 731.55C974.75 734.17 975.03 736.27 975.40 739.40C975.77 742.52 976.20 746.40 976.60 750.30C977.00 754.20 977.43 758.63 977.80 762.80C978.17 766.97 978.48 771.13 978.80 775.30C979.12 779.47 979.38 783.63 979.70 787.80C980.02 791.97 980.20 791.55 980.70 800.30C981.20 809.05 982.05 829.47 982.70 840.30C983.35 851.13 983.92 856.97 984.60 865.30C985.28 873.63 986.08 881.97 986.80 890.30C987.52 898.63 988.18 906.97 988.90 915.30C989.62 923.63 990.38 931.97 991.10 940.30C991.82 948.63 992.40 956.97 993.20 965.30C994.00 973.63 994.95 982.47 995.90 990.30C996.85 998.13 998.01 1006.88 998.90 1012.30C999.79 1017.72 1000.44 1018.97 1001.25 1022.80C1002.06 1026.63 1002.86 1031.13 1003.75 1035.30C1004.64 1039.47 1005.59 1043.63 1006.60 1047.80C1007.61 1051.97 1008.65 1056.13 1009.80 1060.30C1010.95 1064.47 1012.18 1068.63 1013.50 1072.80C1014.82 1076.97 1016.17 1081.13 1017.70 1085.30C1019.23 1089.47 1020.75 1093.63 1022.70 1097.80C1024.65 1101.97 1026.93 1106.76 1029.40 1110.30C1031.87 1113.84 1035.32 1117.05 1037.50 1119.05C1039.68 1121.05 1040.83 1120.92 1042.50 1122.30C1044.17 1123.67 1045.83 1125.34 1047.50 1127.30C1049.17 1129.26 1050.83 1131.67 1052.50 1134.05C1054.17 1136.42 1055.83 1139.13 1057.50 1141.55C1059.17 1143.97 1060.83 1146.26 1062.50 1148.55C1064.17 1150.84 1065.83 1153.34 1067.50 1155.30C1069.17 1157.26 1070.83 1158.80 1072.50 1160.30C1074.17 1161.80 1075.83 1163.17 1077.50 1164.30C1079.17 1165.42 1080.83 1166.34 1082.50 1167.05C1084.17 1167.76 1085.62 1168.17 1087.50 1168.55C1089.38 1168.92 1091.67 1169.34 1093.75 1169.30C1095.83 1169.26 1098.12 1168.88 1100.00 1168.30C1101.88 1167.72 1103.33 1166.84 1105.00 1165.80C1106.67 1164.76 1108.33 1163.30 1110.00 1162.05C1111.67 1160.80 1113.33 1159.26 1115.00 1158.30C1116.67 1157.34 1118.33 1156.72 1120.00 1156.30C1121.67 1155.88 1123.33 1155.80 1125.00 1155.80C1126.67 1155.80 1128.33 1156.34 1130.00 1156.30C1131.67 1156.26 1133.33 1156.22 1135.00 1155.55C1136.67 1154.88 1138.33 1154.01 1140.00 1152.30C1141.67 1150.59 1143.33 1147.72 1145.00 1145.30C1146.67 1142.88 1148.33 1139.97 1150.00 1137.80C1151.67 1135.63 1153.42 1133.51 1155.00 1132.30C1156.58 1131.09 1158.04 1130.47 1159.50 1130.55C1160.96 1130.63 1162.42 1131.38 1163.75 1132.80C1165.08 1134.22 1166.25 1136.55 1167.50 1139.05C1168.75 1141.55 1170.00 1144.67 1171.25 1147.80C1172.50 1150.92 1173.54 1153.84 1175.00 1157.80C1176.46 1161.76 1178.33 1167.38 1180.00 1171.55C1181.67 1175.72 1183.33 1179.47 1185.00 1182.80C1186.67 1186.13 1188.33 1189.26 1190.00 1191.55C1191.67 1193.84 1193.33 1195.26 1195.00 1196.55C1196.67 1197.84 1198.12 1198.67 1200.00 1199.30C1201.88 1199.92 1204.17 1200.09 1206.25 1200.30C1208.33 1200.51 1211.46 1200.51 1212.50 1200.55Z" fill="#F5DEB3" stroke="#000" stroke-width="1.1" stroke-linejoin="round"/>
<path d="M940.87 1220.2V687.81" stroke="#006400" stroke-width="1.5" stroke-dasharray="6 6" stroke-linecap="round" fill="none"/>
<path d="M990.63 1220.2V687.81" stroke="#006400" stroke-width="1.5" stroke-dasharray="6 6" stroke-linecap="round" fill="none"/>
<rect class="bx" x="699.76" y="687.81" width="532.54" height="532.49"/>
<path class="ln" d="M706.13 1220.3H1225.37M706.13 1220.3v6.4M792.67 1220.3v6.4M879.21 1220.3v6.4M965.75 1220.3v6.4M1052.29 1220.3v6.4M1138.83 1220.3v6.4M1225.37 1220.3v6.4M699.76 776.98V1200.5M699.76 1200.5h-6.4M699.76 1094.62h-6.4M699.76 988.74h-6.4M699.76 882.86h-6.4M699.76 776.98h-6.4"/>
<text class="ax" transform="translate(706.13 1241.9) scale(0.955 1)" text-anchor="middle">-600</text>
<text class="ax" transform="translate(792.67 1241.9) scale(0.955 1)" text-anchor="middle">-400</text>
<text class="ax" transform="translate(879.21 1241.9) scale(0.955 1)" text-anchor="middle">-200</text>
<text class="ax" transform="translate(965.75 1241.9) scale(0.955 1)" text-anchor="middle">0</text>
<text class="ax" transform="translate(1052.29 1241.9) scale(0.955 1)" text-anchor="middle">200</text>
<text class="ax" transform="translate(1138.83 1241.9) scale(0.955 1)" text-anchor="middle">400</text>
<text class="ax" transform="translate(1225.37 1241.9) scale(0.955 1)" text-anchor="middle">600</text>
<text class="ax" transform="translate(685 1201) rotate(-90) scale(0.955 1)" text-anchor="middle">0.000</text>
<text class="ax" transform="translate(685 1095.12) rotate(-90) scale(0.955 1)" text-anchor="middle">0.001</text>
<text class="ax" transform="translate(685 989.24) rotate(-90) scale(0.955 1)" text-anchor="middle">0.002</text>
<text class="ax" transform="translate(685 883.36) rotate(-90) scale(0.955 1)" text-anchor="middle">0.003</text>
<text class="ax" transform="translate(685 777.48) rotate(-90) scale(0.955 1)" text-anchor="middle">0.004</text>
<text class="ttl" x="966.03" y="671.8" text-anchor="middle">Enrichment zone: 57.50</text>
<text class="lab" x="966.03" y="1265.5" text-anchor="middle">Distance to peak summit</text>
<text class="lab" transform="translate(662 954.35) rotate(-90)" text-anchor="middle">Density</text>
<path d="M1017.3 703.4H1041" stroke="#006400" stroke-width="1.125" stroke-dasharray="1.125 3.375" stroke-linecap="round" fill="none"/>
<text class="lg" x="1051.9" y="707.6">enrichment zone = 57.5</text>
<path d="M1017.3 719.3H1041" stroke="#D93030" stroke-width="1.125" stroke-dasharray="1.125 3.375" stroke-linecap="round" fill="none"/>
<text class="lg" x="1051.9" y="723.5">motif score threshold = 89.000</text>
<ellipse cx="1029" cy="734.4" rx="3" ry="2.65" fill="#00f"/>
<text class="lg" x="1051.9" y="738.6">centrality p-val = -21.1359</text>
</svg></body></html>
